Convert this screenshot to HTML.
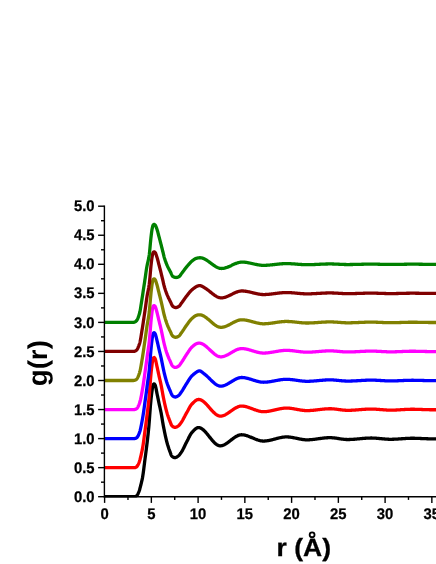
<!DOCTYPE html>
<html><head><meta charset="utf-8"><title>g(r)</title>
<style>
html,body{margin:0;padding:0;background:#fff;}
body{width:436px;height:564px;overflow:hidden;font-family:"Liberation Sans",sans-serif;}
svg{display:block;will-change:transform;}
text{font-family:"Liberation Sans",sans-serif;font-weight:bold;fill:#000;text-rendering:geometricPrecision;}
</style></head><body>
<svg width="436" height="564" viewBox="0 0 436 564">
<rect width="436" height="564" fill="#fff"/>
<clipPath id="pc"><rect x="104.60" y="0" width="340" height="497.40"/></clipPath>
<g fill="none" stroke-width="3.3" stroke-linejoin="round" stroke-linecap="butt" clip-path="url(#pc)">
<path d="M104.60,496.70 L109.27,496.70 L113.95,496.70 L118.62,496.70 L123.30,496.70 L127.97,496.70 L132.65,496.70 L132.88,496.70 L133.12,496.70 L133.35,496.70 L133.58,496.70 L133.82,496.70 L134.05,496.70 L134.29,496.70 L134.52,496.70 L134.75,496.70 L134.99,496.69 L135.22,496.64 L135.45,496.56 L135.69,496.46 L135.92,496.34 L136.16,496.20 L136.39,496.06 L136.62,495.87 L136.86,495.62 L137.09,495.32 L137.32,494.97 L137.56,494.58 L137.79,494.15 L138.03,493.69 L138.26,493.20 L138.49,492.68 L138.73,492.14 L138.96,491.59 L139.19,491.01 L139.43,490.30 L139.66,489.49 L139.90,488.61 L140.13,487.69 L140.36,486.78 L140.60,485.89 L140.83,485.00 L141.06,484.10 L141.30,483.18 L141.53,482.23 L141.77,481.23 L142.00,480.18 L142.23,479.07 L142.47,477.88 L142.70,476.57 L142.93,475.11 L143.17,473.52 L143.40,471.81 L143.64,470.01 L143.87,468.16 L144.10,466.27 L144.34,464.37 L144.57,462.49 L144.80,460.64 L145.04,458.86 L145.27,457.12 L145.51,455.38 L145.74,453.63 L145.97,451.84 L146.21,450.00 L146.44,448.14 L146.67,446.31 L146.91,444.39 L147.14,442.46 L147.38,440.50 L147.61,438.50 L147.84,436.43 L148.08,434.30 L148.31,432.08 L148.54,429.75 L148.78,427.31 L149.01,424.69 L149.25,421.71 L149.48,418.51 L149.71,415.27 L149.95,412.16 L150.18,409.04 L150.41,406.00 L150.65,403.27 L150.88,400.78 L151.12,398.44 L151.35,396.30 L151.58,394.40 L151.82,392.56 L152.05,390.72 L152.28,388.96 L152.52,387.39 L152.75,386.08 L152.99,385.15 L153.22,384.64 L153.45,384.28 L153.69,384.00 L153.92,383.84 L154.15,383.83 L154.39,383.98 L154.62,384.24 L154.86,384.58 L155.09,384.97 L155.32,385.56 L155.56,386.36 L155.79,387.33 L156.02,388.44 L156.26,389.63 L156.49,390.87 L156.73,392.11 L156.96,393.32 L157.19,394.46 L157.43,395.55 L157.66,396.67 L157.89,397.81 L158.13,398.95 L158.36,400.10 L158.60,401.25 L158.83,402.39 L159.06,403.51 L159.30,404.59 L159.53,405.65 L159.76,406.69 L160.00,407.72 L160.23,408.76 L160.47,409.81 L160.70,410.90 L160.93,412.02 L161.17,413.20 L161.40,414.45 L161.63,415.78 L161.87,417.15 L162.10,418.56 L162.34,419.98 L162.57,421.40 L162.80,422.79 L163.04,424.13 L163.27,425.42 L163.50,426.64 L163.74,427.83 L163.97,429.02 L164.21,430.20 L164.44,431.36 L164.67,432.51 L164.91,433.64 L165.14,434.75 L165.37,435.84 L165.61,436.90 L165.84,437.94 L166.08,438.94 L166.31,439.92 L166.54,440.86 L166.78,441.77 L167.01,442.64 L167.24,443.48 L167.48,444.29 L167.71,445.08 L167.95,445.84 L168.18,446.59 L168.41,447.31 L168.65,448.01 L168.88,448.70 L169.11,449.37 L169.35,450.02 L169.58,450.66 L169.82,451.29 L170.05,451.91 L170.28,452.56 L170.52,453.23 L170.75,453.89 L170.98,454.52 L171.22,455.09 L171.45,455.57 L171.69,455.94 L171.92,456.17 L172.15,456.37 L172.39,456.56 L172.62,456.73 L172.85,456.90 L173.09,457.05 L173.32,457.19 L173.56,457.31 L173.79,457.42 L174.02,457.50 L174.26,457.57 L174.49,457.62 L174.72,457.65 L174.96,457.66 L175.19,457.64 L175.43,457.60 L175.66,457.53 L175.89,457.45 L176.13,457.35 L176.36,457.24 L176.59,457.11 L176.83,456.97 L177.06,456.83 L177.30,456.68 L177.53,456.52 L177.76,456.36 L178.00,456.20 L178.23,456.03 L178.46,455.84 L178.70,455.62 L178.93,455.39 L179.17,455.13 L179.40,454.86 L179.63,454.57 L179.87,454.27 L180.10,453.96 L180.33,453.64 L180.57,453.32 L180.80,452.98 L181.04,452.65 L181.27,452.31 L181.50,451.96 L181.74,451.60 L181.97,451.21 L182.20,450.81 L182.44,450.40 L182.67,449.97 L182.91,449.53 L183.14,449.07 L183.37,448.61 L183.61,448.14 L183.84,447.67 L184.07,447.19 L184.31,446.70 L184.54,446.22 L184.78,445.73 L185.01,445.25 L185.24,444.76 L185.48,444.28 L185.71,443.81 L185.94,443.34 L186.18,442.89 L186.41,442.44 L186.65,442.00 L186.88,441.56 L187.11,441.10 L187.35,440.64 L187.58,440.18 L187.81,439.70 L188.05,439.23 L188.28,438.75 L188.52,438.27 L188.75,437.80 L188.98,437.33 L189.22,436.87 L189.45,436.41 L189.68,435.96 L189.92,435.53 L190.15,435.10 L190.39,434.69 L190.62,434.30 L190.85,433.93 L191.09,433.58 L191.32,433.25 L191.55,432.94 L191.79,432.66 L192.02,432.40 L192.26,432.15 L192.49,431.89 L192.72,431.64 L192.96,431.38 L193.19,431.13 L193.42,430.88 L193.66,430.64 L193.89,430.40 L194.13,430.16 L194.36,429.93 L194.59,429.70 L194.83,429.48 L195.06,429.27 L195.29,429.07 L195.53,428.88 L195.76,428.69 L196.00,428.52 L196.23,428.36 L196.46,428.21 L196.70,428.08 L196.93,427.96 L197.16,427.85 L197.40,427.76 L197.63,427.68 L197.87,427.63 L198.10,427.59 L198.33,427.56 L198.57,427.56 L198.80,427.57 L199.03,427.60 L199.27,427.63 L199.50,427.68 L199.74,427.74 L199.97,427.81 L200.20,427.89 L200.44,427.98 L200.67,428.08 L200.90,428.20 L201.14,428.32 L201.37,428.45 L201.61,428.59 L201.84,428.74 L202.07,428.90 L202.31,429.07 L202.54,429.24 L202.77,429.43 L203.01,429.62 L203.24,429.82 L203.48,430.02 L203.71,430.24 L203.94,430.46 L204.18,430.68 L204.41,430.91 L204.64,431.15 L204.88,431.39 L205.11,431.64 L205.35,431.89 L205.58,432.15 L205.81,432.41 L206.05,432.68 L206.28,432.95 L206.51,433.22 L206.75,433.50 L206.98,433.78 L207.22,434.06 L207.45,434.35 L208.01,435.04 L208.57,435.74 L209.13,436.45 L209.69,437.15 L210.25,437.86 L210.82,438.56 L211.38,439.25 L211.94,439.92 L212.50,440.58 L213.06,441.21 L213.62,441.82 L214.18,442.41 L214.74,442.95 L215.30,443.47 L215.87,443.94 L216.43,444.36 L216.99,444.74 L217.55,445.07 L218.11,445.34 L218.67,445.56 L219.23,445.71 L219.79,445.79 L220.35,445.80 L220.91,445.76 L221.48,445.68 L222.04,445.56 L222.60,445.40 L223.16,445.21 L223.72,444.98 L224.28,444.72 L224.84,444.43 L225.40,444.12 L225.96,443.78 L226.52,443.43 L227.09,443.05 L227.65,442.66 L228.21,442.25 L228.77,441.83 L229.33,441.41 L229.89,440.98 L230.45,440.54 L231.01,440.10 L231.57,439.67 L232.13,439.23 L232.70,438.81 L233.26,438.39 L233.82,437.98 L234.38,437.58 L234.94,437.21 L235.50,436.84 L236.06,436.50 L236.62,436.19 L237.18,435.89 L237.74,435.63 L238.31,435.40 L238.87,435.20 L239.43,435.03 L239.99,434.90 L240.55,434.82 L241.11,434.77 L241.67,434.77 L242.23,434.79 L242.79,434.84 L243.35,434.90 L243.92,434.99 L244.48,435.10 L245.04,435.22 L245.60,435.36 L246.16,435.51 L246.72,435.68 L247.28,435.86 L247.84,436.05 L248.40,436.25 L248.96,436.46 L249.53,436.68 L250.09,436.91 L250.65,437.14 L251.21,437.37 L251.77,437.61 L252.33,437.84 L252.89,438.08 L253.45,438.32 L254.01,438.55 L254.57,438.79 L255.14,439.01 L255.70,439.23 L256.26,439.45 L256.82,439.65 L257.38,439.85 L257.94,440.04 L258.50,440.21 L259.06,440.37 L259.62,440.52 L260.18,440.65 L260.75,440.76 L261.31,440.86 L261.87,440.94 L262.43,440.99 L262.99,441.03 L263.55,441.04 L264.11,441.03 L264.67,441.01 L265.23,440.98 L265.79,440.93 L266.36,440.87 L266.92,440.80 L267.48,440.72 L268.04,440.63 L268.60,440.53 L269.16,440.42 L269.72,440.30 L270.28,440.18 L270.84,440.05 L271.40,439.92 L271.97,439.78 L272.53,439.64 L273.09,439.49 L273.65,439.34 L274.21,439.19 L274.77,439.04 L275.33,438.89 L275.89,438.74 L276.45,438.59 L277.01,438.44 L277.58,438.29 L278.14,438.15 L278.70,438.01 L279.26,437.88 L279.82,437.75 L280.38,437.63 L280.94,437.52 L281.50,437.41 L282.06,437.31 L282.62,437.22 L283.19,437.14 L283.75,437.07 L284.31,437.02 L284.87,436.97 L285.43,436.94 L285.99,436.92 L286.55,436.92 L287.11,436.92 L287.67,436.94 L288.23,436.98 L288.80,437.02 L289.36,437.07 L289.92,437.13 L290.48,437.20 L291.04,437.28 L291.60,437.37 L292.16,437.46 L292.72,437.56 L293.28,437.66 L293.84,437.77 L294.41,437.88 L294.97,438.00 L295.53,438.11 L296.09,438.23 L296.65,438.35 L297.21,438.47 L297.77,438.58 L298.33,438.70 L298.89,438.82 L299.45,438.93 L300.02,439.04 L300.58,439.14 L301.14,439.24 L301.70,439.34 L302.26,439.42 L302.82,439.51 L303.38,439.58 L303.94,439.64 L304.50,439.70 L305.06,439.75 L305.63,439.78 L306.19,439.81 L306.75,439.82 L307.31,439.82 L307.87,439.81 L308.43,439.80 L308.99,439.78 L309.55,439.75 L310.11,439.71 L310.67,439.67 L311.24,439.63 L311.80,439.58 L312.36,439.53 L312.92,439.47 L313.48,439.40 L314.04,439.34 L314.60,439.27 L315.16,439.20 L315.72,439.13 L316.28,439.05 L316.85,438.97 L317.41,438.90 L317.97,438.82 L318.53,438.74 L319.09,438.66 L319.65,438.58 L320.21,438.50 L320.77,438.43 L321.33,438.35 L321.89,438.28 L322.46,438.21 L323.02,438.14 L323.58,438.08 L324.14,438.01 L324.70,437.96 L325.26,437.90 L325.82,437.85 L326.38,437.81 L326.94,437.77 L327.50,437.74 L328.07,437.71 L328.63,437.69 L329.19,437.68 L329.75,437.67 L330.31,437.67 L330.87,437.69 L331.43,437.71 L331.99,437.74 L332.55,437.78 L333.11,437.83 L333.68,437.88 L334.24,437.94 L334.80,438.01 L335.36,438.08 L335.92,438.16 L336.48,438.24 L337.04,438.32 L337.60,438.41 L338.16,438.50 L338.72,438.59 L339.29,438.67 L339.85,438.76 L340.41,438.85 L340.97,438.93 L341.53,439.01 L342.09,439.09 L342.65,439.16 L343.21,439.23 L343.77,439.30 L344.33,439.35 L344.90,439.41 L345.46,439.45 L346.02,439.48 L346.58,439.51 L347.14,439.52 L347.70,439.53 L348.26,439.53 L348.82,439.52 L349.38,439.51 L349.94,439.49 L350.51,439.47 L351.07,439.44 L351.63,439.42 L352.19,439.38 L352.75,439.35 L353.31,439.31 L353.87,439.27 L354.43,439.23 L354.99,439.18 L355.55,439.13 L356.12,439.08 L356.68,439.03 L357.24,438.98 L357.80,438.93 L358.36,438.87 L358.92,438.82 L359.48,438.77 L360.04,438.71 L360.60,438.66 L361.16,438.60 L361.73,438.55 L362.29,438.50 L362.85,438.45 L363.41,438.40 L363.97,438.35 L364.53,438.31 L365.09,438.27 L365.65,438.23 L366.21,438.19 L366.77,438.15 L367.34,438.12 L367.90,438.10 L368.46,438.07 L369.02,438.05 L369.58,438.04 L370.14,438.03 L370.70,438.02 L371.26,438.02 L371.82,438.02 L372.38,438.04 L372.95,438.05 L373.51,438.07 L374.07,438.10 L374.63,438.13 L375.19,438.16 L375.75,438.20 L376.31,438.24 L376.87,438.29 L377.43,438.33 L377.99,438.38 L378.56,438.43 L379.12,438.49 L379.68,438.54 L380.24,438.59 L380.80,438.65 L381.36,438.70 L381.92,438.76 L382.48,438.81 L383.04,438.86 L383.60,438.92 L384.17,438.97 L384.73,439.01 L385.29,439.06 L385.85,439.10 L386.41,439.14 L386.97,439.18 L387.53,439.21 L388.09,439.24 L388.65,439.26 L389.21,439.28 L389.78,439.29 L390.34,439.30 L390.90,439.30 L391.46,439.29 L392.02,439.29 L392.58,439.27 L393.14,439.26 L393.70,439.24 L394.26,439.22 L394.82,439.20 L395.39,439.17 L395.95,439.14 L396.51,439.11 L397.07,439.08 L397.63,439.04 L398.19,439.01 L398.75,438.97 L399.31,438.93 L399.87,438.89 L400.43,438.85 L401.00,438.81 L401.56,438.77 L402.12,438.73 L402.68,438.69 L403.24,438.65 L403.80,438.61 L404.36,438.57 L404.92,438.53 L405.48,438.49 L406.04,438.46 L406.61,438.43 L407.17,438.40 L407.73,438.37 L408.29,438.34 L408.85,438.32 L409.41,438.30 L409.97,438.28 L410.53,438.27 L411.09,438.26 L411.65,438.25 L412.22,438.25 L412.78,438.25 L413.34,438.26 L413.90,438.26 L414.46,438.27 L415.02,438.28 L415.58,438.30 L416.14,438.31 L416.70,438.33 L417.26,438.35 L417.83,438.37 L418.39,438.39 L418.95,438.41 L419.51,438.43 L420.07,438.46 L420.63,438.48 L421.19,438.50 L421.75,438.53 L422.31,438.55 L422.87,438.58 L423.44,438.60 L424.00,438.63 L424.56,438.65 L425.12,438.67 L425.68,438.70 L426.24,438.72 L426.80,438.74 L427.36,438.76 L427.92,438.77 L428.48,438.79 L429.05,438.80 L429.61,438.81 L430.17,438.82 L430.73,438.83 L431.29,438.83 L431.85,438.83 L432.41,438.83 L432.97,438.83 L433.53,438.83 L434.09,438.83 L434.66,438.83 L435.22,438.83 L435.78,438.83 L436.34,438.83 L436.90,438.82 L437.46,438.82 L438.02,438.82 L438.58,438.81 L439.14,438.81 L439.70,438.81 L440.27,438.80 L440.83,438.80 L441.39,438.79 L441.95,438.78 L442.51,438.78 L443.07,438.77 L443.63,438.76 L444.19,438.75 L444.75,438.74 L445.31,438.73 L445.88,438.72 L446.44,438.71" stroke="#000000"/>
<path d="M104.60,467.65 L109.27,467.65 L113.95,467.65 L118.62,467.65 L123.30,467.65 L127.97,467.65 L132.65,467.65 L132.88,467.65 L133.12,467.65 L133.35,467.65 L133.58,467.65 L133.82,467.65 L134.05,467.64 L134.29,467.64 L134.52,467.62 L134.75,467.61 L134.99,467.59 L135.22,467.55 L135.45,467.48 L135.69,467.39 L135.92,467.27 L136.16,467.14 L136.39,467.00 L136.62,466.85 L136.86,466.64 L137.09,466.38 L137.32,466.06 L137.56,465.70 L137.79,465.29 L138.03,464.85 L138.26,464.37 L138.49,463.86 L138.73,463.32 L138.96,462.76 L139.19,462.19 L139.43,461.57 L139.66,460.84 L139.90,460.03 L140.13,459.14 L140.36,458.20 L140.60,457.23 L140.83,456.25 L141.06,455.26 L141.30,454.23 L141.53,453.18 L141.77,452.10 L142.00,450.98 L142.23,449.82 L142.47,448.61 L142.70,447.35 L142.93,445.98 L143.17,444.48 L143.40,442.87 L143.64,441.18 L143.87,439.43 L144.10,437.63 L144.34,435.82 L144.57,434.00 L144.80,432.20 L145.04,430.43 L145.27,428.71 L145.51,427.00 L145.74,425.28 L145.97,423.54 L146.21,421.76 L146.44,419.95 L146.67,418.15 L146.91,416.25 L147.14,414.37 L147.38,412.51 L147.61,410.65 L147.84,408.77 L148.08,406.86 L148.31,404.88 L148.54,402.82 L148.78,400.65 L149.01,398.35 L149.25,395.77 L149.48,392.88 L149.71,389.80 L149.95,386.72 L150.18,383.67 L150.41,380.58 L150.65,377.70 L150.88,375.09 L151.12,372.64 L151.35,370.39 L151.58,368.35 L151.82,366.43 L152.05,364.54 L152.28,362.78 L152.52,361.19 L152.75,359.86 L152.99,358.87 L153.22,358.33 L153.45,357.97 L153.69,357.69 L153.92,357.53 L154.15,357.51 L154.39,357.65 L154.62,357.90 L154.86,358.23 L155.09,358.61 L155.32,359.17 L155.56,359.93 L155.79,360.84 L156.02,361.88 L156.26,362.99 L156.49,364.13 L156.73,365.28 L156.96,366.40 L157.19,367.46 L157.43,368.49 L157.66,369.55 L157.89,370.63 L158.13,371.72 L158.36,372.83 L158.60,373.92 L158.83,375.01 L159.06,376.08 L159.30,377.12 L159.53,378.14 L159.76,379.14 L160.00,380.14 L160.23,381.15 L160.47,382.17 L160.70,383.22 L160.93,384.30 L161.17,385.42 L161.40,386.61 L161.63,387.85 L161.87,389.13 L162.10,390.44 L162.34,391.76 L162.57,393.07 L162.80,394.37 L163.04,395.64 L163.27,396.86 L163.50,398.03 L163.74,399.18 L163.97,400.31 L164.21,401.42 L164.44,402.51 L164.67,403.58 L164.91,404.63 L165.14,405.65 L165.37,406.65 L165.61,407.63 L165.84,408.58 L166.08,409.51 L166.31,410.41 L166.54,411.27 L166.78,412.11 L167.01,412.91 L167.24,413.69 L167.48,414.44 L167.71,415.17 L167.95,415.87 L168.18,416.56 L168.41,417.23 L168.65,417.88 L168.88,418.52 L169.11,419.14 L169.35,419.75 L169.58,420.35 L169.82,420.94 L170.05,421.52 L170.28,422.12 L170.52,422.74 L170.75,423.36 L170.98,423.97 L171.22,424.52 L171.45,425.01 L171.69,425.41 L171.92,425.69 L172.15,425.94 L172.39,426.17 L172.62,426.38 L172.85,426.56 L173.09,426.70 L173.32,426.84 L173.56,426.96 L173.79,427.07 L174.02,427.16 L174.26,427.23 L174.49,427.29 L174.72,427.33 L174.96,427.34 L175.19,427.34 L175.43,427.32 L175.66,427.27 L175.89,427.21 L176.13,427.13 L176.36,427.04 L176.59,426.94 L176.83,426.82 L177.06,426.70 L177.30,426.56 L177.53,426.43 L177.76,426.29 L178.00,426.14 L178.23,425.99 L178.46,425.82 L178.70,425.63 L178.93,425.42 L179.17,425.19 L179.40,424.94 L179.63,424.67 L179.87,424.37 L180.10,424.06 L180.33,423.74 L180.57,423.40 L180.80,423.07 L181.04,422.73 L181.27,422.40 L181.50,422.06 L181.74,421.70 L181.97,421.34 L182.20,420.95 L182.44,420.56 L182.67,420.15 L182.91,419.74 L183.14,419.32 L183.37,418.89 L183.61,418.45 L183.84,418.01 L184.07,417.56 L184.31,417.11 L184.54,416.66 L184.78,416.22 L185.01,415.77 L185.24,415.32 L185.48,414.88 L185.71,414.44 L185.94,414.01 L186.18,413.59 L186.41,413.18 L186.65,412.77 L186.88,412.36 L187.11,411.95 L187.35,411.53 L187.58,411.10 L187.81,410.66 L188.05,410.23 L188.28,409.79 L188.52,409.36 L188.75,408.93 L188.98,408.50 L189.22,408.08 L189.45,407.66 L189.68,407.25 L189.92,406.85 L190.15,406.47 L190.39,406.09 L190.62,405.73 L190.85,405.39 L191.09,405.06 L191.32,404.76 L191.55,404.47 L191.79,404.21 L192.02,403.96 L192.26,403.72 L192.49,403.49 L192.72,403.25 L192.96,403.01 L193.19,402.77 L193.42,402.54 L193.66,402.30 L193.89,402.08 L194.13,401.86 L194.36,401.64 L194.59,401.43 L194.83,401.23 L195.06,401.04 L195.29,400.85 L195.53,400.68 L195.76,400.51 L196.00,400.36 L196.23,400.22 L196.46,400.09 L196.70,399.97 L196.93,399.86 L197.16,399.76 L197.40,399.68 L197.63,399.61 L197.87,399.55 L198.10,399.51 L198.33,399.49 L198.57,399.48 L198.80,399.48 L199.03,399.49 L199.27,399.51 L199.50,399.55 L199.74,399.59 L199.97,399.65 L200.20,399.71 L200.44,399.79 L200.67,399.87 L200.90,399.97 L201.14,400.07 L201.37,400.18 L201.61,400.30 L201.84,400.43 L202.07,400.57 L202.31,400.72 L202.54,400.87 L202.77,401.03 L203.01,401.20 L203.24,401.37 L203.48,401.56 L203.71,401.75 L203.94,401.94 L204.18,402.14 L204.41,402.35 L204.64,402.56 L204.88,402.78 L205.11,403.00 L205.35,403.23 L205.58,403.46 L205.81,403.69 L206.05,403.93 L206.28,404.18 L206.51,404.42 L206.75,404.67 L206.98,404.93 L207.22,405.18 L207.45,405.44 L208.01,406.07 L208.57,406.71 L209.13,407.35 L209.69,408.00 L210.25,408.64 L210.82,409.28 L211.38,409.91 L211.94,410.53 L212.50,411.14 L213.06,411.73 L213.62,412.29 L214.18,412.83 L214.74,413.34 L215.30,413.82 L215.87,414.26 L216.43,414.67 L216.99,415.03 L217.55,415.34 L218.11,415.61 L218.67,415.82 L219.23,415.97 L219.79,416.07 L220.35,416.10 L220.91,416.08 L221.48,416.02 L222.04,415.93 L222.60,415.79 L223.16,415.62 L223.72,415.42 L224.28,415.20 L224.84,414.94 L225.40,414.66 L225.96,414.36 L226.52,414.04 L227.09,413.70 L227.65,413.34 L228.21,412.98 L228.77,412.60 L229.33,412.21 L229.89,411.82 L230.45,411.42 L231.01,411.02 L231.57,410.62 L232.13,410.22 L232.70,409.83 L233.26,409.44 L233.82,409.07 L234.38,408.70 L234.94,408.35 L235.50,408.02 L236.06,407.71 L236.62,407.41 L237.18,407.14 L237.74,406.89 L238.31,406.67 L238.87,406.48 L239.43,406.33 L239.99,406.20 L240.55,406.12 L241.11,406.07 L241.67,406.06 L242.23,406.08 L242.79,406.12 L243.35,406.17 L243.92,406.25 L244.48,406.34 L245.04,406.45 L245.60,406.58 L246.16,406.71 L246.72,406.86 L247.28,407.02 L247.84,407.20 L248.40,407.38 L248.96,407.56 L249.53,407.76 L250.09,407.96 L250.65,408.17 L251.21,408.38 L251.77,408.59 L252.33,408.81 L252.89,409.02 L253.45,409.24 L254.01,409.45 L254.57,409.66 L255.14,409.86 L255.70,410.06 L256.26,410.26 L256.82,410.44 L257.38,410.62 L257.94,410.79 L258.50,410.95 L259.06,411.09 L259.62,411.23 L260.18,411.34 L260.75,411.45 L261.31,411.53 L261.87,411.60 L262.43,411.66 L262.99,411.69 L263.55,411.70 L264.11,411.69 L264.67,411.67 L265.23,411.64 L265.79,411.60 L266.36,411.55 L266.92,411.49 L267.48,411.41 L268.04,411.33 L268.60,411.25 L269.16,411.15 L269.72,411.05 L270.28,410.94 L270.84,410.83 L271.40,410.71 L271.97,410.59 L272.53,410.46 L273.09,410.34 L273.65,410.21 L274.21,410.07 L274.77,409.94 L275.33,409.81 L275.89,409.67 L276.45,409.54 L277.01,409.41 L277.58,409.28 L278.14,409.16 L278.70,409.04 L279.26,408.92 L279.82,408.81 L280.38,408.70 L280.94,408.60 L281.50,408.51 L282.06,408.42 L282.62,408.34 L283.19,408.27 L283.75,408.21 L284.31,408.16 L284.87,408.12 L285.43,408.09 L285.99,408.08 L286.55,408.07 L287.11,408.08 L287.67,408.10 L288.23,408.13 L288.80,408.16 L289.36,408.21 L289.92,408.26 L290.48,408.32 L291.04,408.39 L291.60,408.47 L292.16,408.55 L292.72,408.63 L293.28,408.72 L293.84,408.82 L294.41,408.91 L294.97,409.01 L295.53,409.11 L296.09,409.22 L296.65,409.32 L297.21,409.42 L297.77,409.52 L298.33,409.63 L298.89,409.73 L299.45,409.82 L300.02,409.92 L300.58,410.01 L301.14,410.10 L301.70,410.18 L302.26,410.25 L302.82,410.33 L303.38,410.39 L303.94,410.45 L304.50,410.49 L305.06,410.53 L305.63,410.57 L306.19,410.59 L306.75,410.60 L307.31,410.60 L307.87,410.59 L308.43,410.58 L308.99,410.56 L309.55,410.54 L310.11,410.51 L310.67,410.47 L311.24,410.43 L311.80,410.39 L312.36,410.34 L312.92,410.29 L313.48,410.24 L314.04,410.18 L314.60,410.12 L315.16,410.06 L315.72,410.00 L316.28,409.93 L316.85,409.87 L317.41,409.80 L317.97,409.73 L318.53,409.67 L319.09,409.60 L319.65,409.53 L320.21,409.46 L320.77,409.40 L321.33,409.33 L321.89,409.27 L322.46,409.21 L323.02,409.15 L323.58,409.09 L324.14,409.04 L324.70,408.99 L325.26,408.94 L325.82,408.90 L326.38,408.86 L326.94,408.83 L327.50,408.80 L328.07,408.78 L328.63,408.76 L329.19,408.75 L329.75,408.74 L330.31,408.74 L330.87,408.76 L331.43,408.77 L331.99,408.80 L332.55,408.84 L333.11,408.88 L333.68,408.92 L334.24,408.98 L334.80,409.03 L335.36,409.10 L335.92,409.16 L336.48,409.23 L337.04,409.30 L337.60,409.38 L338.16,409.45 L338.72,409.53 L339.29,409.60 L339.85,409.68 L340.41,409.75 L340.97,409.82 L341.53,409.89 L342.09,409.96 L342.65,410.02 L343.21,410.08 L343.77,410.13 L344.33,410.18 L344.90,410.23 L345.46,410.26 L346.02,410.29 L346.58,410.31 L347.14,410.33 L347.70,410.33 L348.26,410.33 L348.82,410.32 L349.38,410.31 L349.94,410.30 L350.51,410.28 L351.07,410.26 L351.63,410.24 L352.19,410.21 L352.75,410.18 L353.31,410.15 L353.87,410.11 L354.43,410.08 L354.99,410.04 L355.55,410.00 L356.12,409.96 L356.68,409.91 L357.24,409.87 L357.80,409.82 L358.36,409.78 L358.92,409.73 L359.48,409.69 L360.04,409.64 L360.60,409.59 L361.16,409.55 L361.73,409.50 L362.29,409.46 L362.85,409.42 L363.41,409.38 L363.97,409.34 L364.53,409.30 L365.09,409.26 L365.65,409.23 L366.21,409.20 L366.77,409.17 L367.34,409.14 L367.90,409.12 L368.46,409.10 L369.02,409.08 L369.58,409.07 L370.14,409.06 L370.70,409.06 L371.26,409.05 L371.82,409.06 L372.38,409.07 L372.95,409.08 L373.51,409.10 L374.07,409.12 L374.63,409.15 L375.19,409.18 L375.75,409.21 L376.31,409.24 L376.87,409.28 L377.43,409.32 L377.99,409.36 L378.56,409.41 L379.12,409.45 L379.68,409.50 L380.24,409.54 L380.80,409.59 L381.36,409.63 L381.92,409.68 L382.48,409.73 L383.04,409.77 L383.60,409.81 L384.17,409.86 L384.73,409.90 L385.29,409.94 L385.85,409.97 L386.41,410.00 L386.97,410.03 L387.53,410.06 L388.09,410.08 L388.65,410.10 L389.21,410.12 L389.78,410.13 L390.34,410.14 L390.90,410.14 L391.46,410.13 L392.02,410.13 L392.58,410.12 L393.14,410.11 L393.70,410.09 L394.26,410.07 L394.82,410.05 L395.39,410.03 L395.95,410.01 L396.51,409.98 L397.07,409.95 L397.63,409.92 L398.19,409.89 L398.75,409.86 L399.31,409.83 L399.87,409.79 L400.43,409.76 L401.00,409.72 L401.56,409.69 L402.12,409.65 L402.68,409.62 L403.24,409.58 L403.80,409.55 L404.36,409.52 L404.92,409.49 L405.48,409.46 L406.04,409.43 L406.61,409.40 L407.17,409.37 L407.73,409.35 L408.29,409.33 L408.85,409.31 L409.41,409.29 L409.97,409.28 L410.53,409.27 L411.09,409.26 L411.65,409.25 L412.22,409.25 L412.78,409.25 L413.34,409.25 L413.90,409.26 L414.46,409.27 L415.02,409.28 L415.58,409.29 L416.14,409.30 L416.70,409.32 L417.26,409.33 L417.83,409.35 L418.39,409.37 L418.95,409.39 L419.51,409.40 L420.07,409.42 L420.63,409.45 L421.19,409.47 L421.75,409.49 L422.31,409.51 L422.87,409.53 L423.44,409.55 L424.00,409.57 L424.56,409.59 L425.12,409.61 L425.68,409.63 L426.24,409.65 L426.80,409.66 L427.36,409.68 L427.92,409.69 L428.48,409.71 L429.05,409.72 L429.61,409.73 L430.17,409.74 L430.73,409.74 L431.29,409.74 L431.85,409.75 L432.41,409.75 L432.97,409.75 L433.53,409.75 L434.09,409.74 L434.66,409.74 L435.22,409.74 L435.78,409.74 L436.34,409.74 L436.90,409.74 L437.46,409.74 L438.02,409.73 L438.58,409.73 L439.14,409.73 L439.70,409.72 L440.27,409.72 L440.83,409.72 L441.39,409.71 L441.95,409.71 L442.51,409.70 L443.07,409.69 L443.63,409.69 L444.19,409.68 L444.75,409.67 L445.31,409.66 L445.88,409.65 L446.44,409.64" stroke="#ff0000"/>
<path d="M104.60,438.60 L109.27,438.60 L113.95,438.60 L118.62,438.60 L123.30,438.60 L127.97,438.60 L132.65,438.60 L132.88,438.60 L133.12,438.60 L133.35,438.60 L133.58,438.60 L133.82,438.60 L134.05,438.60 L134.29,438.58 L134.52,438.56 L134.75,438.53 L134.99,438.48 L135.22,438.44 L135.45,438.37 L135.69,438.27 L135.92,438.16 L136.16,438.04 L136.39,437.90 L136.62,437.75 L136.86,437.58 L137.09,437.36 L137.32,437.08 L137.56,436.74 L137.79,436.36 L138.03,435.94 L138.26,435.47 L138.49,434.97 L138.73,434.44 L138.96,433.87 L139.19,433.28 L139.43,432.66 L139.66,432.00 L139.90,431.27 L140.13,430.47 L140.36,429.57 L140.60,428.57 L140.83,427.51 L141.06,426.40 L141.30,425.24 L141.53,424.04 L141.77,422.80 L142.00,421.53 L142.23,420.24 L142.47,418.93 L142.70,417.61 L142.93,416.26 L143.17,414.83 L143.40,413.30 L143.64,411.70 L143.87,410.05 L144.10,408.37 L144.34,406.67 L144.57,404.97 L144.80,403.26 L145.04,401.57 L145.27,399.90 L145.51,398.25 L145.74,396.58 L145.97,394.89 L146.21,393.17 L146.44,391.42 L146.67,389.66 L146.91,387.77 L147.14,385.93 L147.38,384.16 L147.61,382.46 L147.84,380.81 L148.08,379.19 L148.31,377.55 L148.54,375.85 L148.78,374.08 L149.01,372.19 L149.25,370.12 L149.48,367.76 L149.71,365.09 L149.95,362.22 L150.18,359.29 L150.41,356.27 L150.65,353.31 L150.88,350.57 L151.12,348.00 L151.35,345.66 L151.58,343.52 L151.82,341.50 L152.05,339.58 L152.28,337.88 L152.52,336.36 L152.75,335.05 L152.99,334.06 L153.22,333.49 L153.45,333.17 L153.69,332.92 L153.92,332.76 L154.15,332.74 L154.39,332.85 L154.62,333.06 L154.86,333.36 L155.09,333.69 L155.32,334.18 L155.56,334.83 L155.79,335.62 L156.02,336.51 L156.26,337.47 L156.49,338.45 L156.73,339.44 L156.96,340.39 L157.19,341.33 L157.43,342.27 L157.66,343.25 L157.89,344.25 L158.13,345.28 L158.36,346.31 L158.60,347.34 L158.83,348.35 L159.06,349.35 L159.30,350.32 L159.53,351.29 L159.76,352.24 L160.00,353.20 L160.23,354.16 L160.47,355.13 L160.70,356.12 L160.93,357.14 L161.17,358.18 L161.40,359.27 L161.63,360.40 L161.87,361.55 L162.10,362.72 L162.34,363.89 L162.57,365.06 L162.80,366.22 L163.04,367.38 L163.27,368.51 L163.50,369.61 L163.74,370.69 L163.97,371.74 L164.21,372.77 L164.44,373.75 L164.67,374.70 L164.91,375.63 L165.14,376.53 L165.37,377.41 L165.61,378.27 L165.84,379.10 L166.08,379.91 L166.31,380.69 L166.54,381.45 L166.78,382.18 L167.01,382.89 L167.24,383.58 L167.48,384.24 L167.71,384.88 L167.95,385.50 L168.18,386.11 L168.41,386.70 L168.65,387.28 L168.88,387.85 L169.11,388.40 L169.35,388.95 L169.58,389.49 L169.82,390.02 L170.05,390.55 L170.28,391.10 L170.52,391.67 L170.75,392.25 L170.98,392.84 L171.22,393.40 L171.45,393.93 L171.69,394.40 L171.92,394.79 L172.15,395.15 L172.39,395.47 L172.62,395.75 L172.85,395.97 L173.09,396.15 L173.32,396.31 L173.56,396.46 L173.79,396.59 L174.02,396.70 L174.26,396.80 L174.49,396.89 L174.72,396.95 L174.96,396.99 L175.19,397.01 L175.43,397.01 L175.66,396.99 L175.89,396.94 L176.13,396.88 L176.36,396.80 L176.59,396.71 L176.83,396.60 L177.06,396.47 L177.30,396.34 L177.53,396.20 L177.76,396.05 L178.00,395.90 L178.23,395.74 L178.46,395.57 L178.70,395.38 L178.93,395.18 L179.17,394.97 L179.40,394.73 L179.63,394.45 L179.87,394.14 L180.10,393.81 L180.33,393.47 L180.57,393.12 L180.80,392.77 L181.04,392.43 L181.27,392.11 L181.50,391.78 L181.74,391.45 L181.97,391.10 L182.20,390.75 L182.44,390.39 L182.67,390.02 L182.91,389.64 L183.14,389.26 L183.37,388.87 L183.61,388.48 L183.84,388.09 L184.07,387.69 L184.31,387.29 L184.54,386.90 L184.78,386.50 L185.01,386.11 L185.24,385.72 L185.48,385.33 L185.71,384.94 L185.94,384.56 L186.18,384.19 L186.41,383.83 L186.65,383.47 L186.88,383.11 L187.11,382.75 L187.35,382.38 L187.58,382.00 L187.81,381.63 L188.05,381.25 L188.28,380.88 L188.52,380.50 L188.75,380.13 L188.98,379.76 L189.22,379.40 L189.45,379.04 L189.68,378.68 L189.92,378.34 L190.15,378.01 L190.39,377.68 L190.62,377.37 L190.85,377.07 L191.09,376.78 L191.32,376.51 L191.55,376.25 L191.79,376.02 L192.02,375.79 L192.26,375.57 L192.49,375.35 L192.72,375.14 L192.96,374.92 L193.19,374.70 L193.42,374.49 L193.66,374.28 L193.89,374.08 L194.13,373.88 L194.36,373.68 L194.59,373.50 L194.83,373.32 L195.06,373.15 L195.29,372.98 L195.53,372.81 L195.76,372.64 L196.00,372.48 L196.23,372.32 L196.46,372.16 L196.70,372.00 L196.93,371.84 L197.16,371.69 L197.40,371.55 L197.63,371.42 L197.87,371.30 L198.10,371.19 L198.33,371.10 L198.57,371.02 L198.80,370.97 L199.03,370.93 L199.27,370.91 L199.50,370.91 L199.74,370.93 L199.97,370.97 L200.20,371.03 L200.44,371.11 L200.67,371.21 L200.90,371.33 L201.14,371.46 L201.37,371.60 L201.61,371.76 L201.84,371.93 L202.07,372.11 L202.31,372.30 L202.54,372.49 L202.77,372.68 L203.01,372.87 L203.24,373.07 L203.48,373.26 L203.71,373.45 L203.94,373.64 L204.18,373.82 L204.41,373.99 L204.64,374.17 L204.88,374.35 L205.11,374.53 L205.35,374.72 L205.58,374.92 L205.81,375.11 L206.05,375.32 L206.28,375.52 L206.51,375.73 L206.75,375.94 L206.98,376.16 L207.22,376.38 L207.45,376.60 L208.01,377.13 L208.57,377.68 L209.13,378.23 L209.69,378.79 L210.25,379.35 L210.82,379.91 L211.38,380.46 L211.94,381.00 L212.50,381.53 L213.06,382.05 L213.62,382.55 L214.18,383.03 L214.74,383.49 L215.30,383.92 L215.87,384.32 L216.43,384.69 L216.99,385.03 L217.55,385.32 L218.11,385.58 L218.67,385.79 L219.23,385.95 L219.79,386.06 L220.35,386.12 L220.91,386.13 L221.48,386.10 L222.04,386.04 L222.60,385.94 L223.16,385.81 L223.72,385.65 L224.28,385.47 L224.84,385.26 L225.40,385.03 L225.96,384.78 L226.52,384.51 L227.09,384.22 L227.65,383.92 L228.21,383.60 L228.77,383.28 L229.33,382.95 L229.89,382.61 L230.45,382.26 L231.01,381.92 L231.57,381.57 L232.13,381.23 L232.70,380.88 L233.26,380.55 L233.82,380.22 L234.38,379.90 L234.94,379.59 L235.50,379.29 L236.06,379.01 L236.62,378.75 L237.18,378.51 L237.74,378.29 L238.31,378.09 L238.87,377.92 L239.43,377.77 L239.99,377.65 L240.55,377.57 L241.11,377.52 L241.67,377.50 L242.23,377.51 L242.79,377.54 L243.35,377.58 L243.92,377.64 L244.48,377.72 L245.04,377.80 L245.60,377.91 L246.16,378.02 L246.72,378.14 L247.28,378.28 L247.84,378.42 L248.40,378.57 L248.96,378.73 L249.53,378.90 L250.09,379.07 L250.65,379.24 L251.21,379.42 L251.77,379.60 L252.33,379.78 L252.89,379.96 L253.45,380.14 L254.01,380.32 L254.57,380.50 L255.14,380.67 L255.70,380.84 L256.26,381.01 L256.82,381.16 L257.38,381.32 L257.94,381.46 L258.50,381.59 L259.06,381.72 L259.62,381.83 L260.18,381.93 L260.75,382.02 L261.31,382.09 L261.87,382.15 L262.43,382.19 L262.99,382.22 L263.55,382.23 L264.11,382.22 L264.67,382.21 L265.23,382.18 L265.79,382.15 L266.36,382.11 L266.92,382.06 L267.48,382.00 L268.04,381.94 L268.60,381.87 L269.16,381.79 L269.72,381.71 L270.28,381.62 L270.84,381.53 L271.40,381.44 L271.97,381.34 L272.53,381.24 L273.09,381.14 L273.65,381.03 L274.21,380.93 L274.77,380.82 L275.33,380.71 L275.89,380.61 L276.45,380.50 L277.01,380.39 L277.58,380.29 L278.14,380.19 L278.70,380.09 L279.26,380.00 L279.82,379.91 L280.38,379.82 L280.94,379.74 L281.50,379.67 L282.06,379.60 L282.62,379.54 L283.19,379.48 L283.75,379.43 L284.31,379.39 L284.87,379.36 L285.43,379.34 L285.99,379.32 L286.55,379.32 L287.11,379.32 L287.67,379.34 L288.23,379.36 L288.80,379.39 L289.36,379.43 L289.92,379.47 L290.48,379.52 L291.04,379.57 L291.60,379.63 L292.16,379.69 L292.72,379.76 L293.28,379.83 L293.84,379.90 L294.41,379.98 L294.97,380.06 L295.53,380.14 L296.09,380.22 L296.65,380.30 L297.21,380.38 L297.77,380.46 L298.33,380.54 L298.89,380.62 L299.45,380.70 L300.02,380.77 L300.58,380.84 L301.14,380.91 L301.70,380.97 L302.26,381.03 L302.82,381.09 L303.38,381.14 L303.94,381.18 L304.50,381.22 L305.06,381.25 L305.63,381.28 L306.19,381.30 L306.75,381.30 L307.31,381.30 L307.87,381.30 L308.43,381.29 L308.99,381.28 L309.55,381.26 L310.11,381.23 L310.67,381.21 L311.24,381.18 L311.80,381.14 L312.36,381.11 L312.92,381.07 L313.48,381.03 L314.04,380.98 L314.60,380.94 L315.16,380.89 L315.72,380.84 L316.28,380.79 L316.85,380.74 L317.41,380.69 L317.97,380.63 L318.53,380.58 L319.09,380.53 L319.65,380.48 L320.21,380.42 L320.77,380.37 L321.33,380.32 L321.89,380.27 L322.46,380.23 L323.02,380.18 L323.58,380.14 L324.14,380.10 L324.70,380.06 L325.26,380.02 L325.82,379.99 L326.38,379.96 L326.94,379.93 L327.50,379.91 L328.07,379.89 L328.63,379.88 L329.19,379.87 L329.75,379.87 L330.31,379.87 L330.87,379.88 L331.43,379.89 L331.99,379.91 L332.55,379.94 L333.11,379.97 L333.68,380.00 L334.24,380.04 L334.80,380.09 L335.36,380.14 L335.92,380.19 L336.48,380.24 L337.04,380.29 L337.60,380.35 L338.16,380.40 L338.72,380.46 L339.29,380.52 L339.85,380.57 L340.41,380.63 L340.97,380.69 L341.53,380.74 L342.09,380.79 L342.65,380.84 L343.21,380.88 L343.77,380.92 L344.33,380.96 L344.90,380.99 L345.46,381.02 L346.02,381.04 L346.58,381.06 L347.14,381.07 L347.70,381.07 L348.26,381.07 L348.82,381.07 L349.38,381.06 L349.94,381.05 L350.51,381.04 L351.07,381.02 L351.63,381.00 L352.19,380.98 L352.75,380.96 L353.31,380.94 L353.87,380.91 L354.43,380.88 L354.99,380.85 L355.55,380.82 L356.12,380.79 L356.68,380.76 L357.24,380.73 L357.80,380.70 L358.36,380.66 L358.92,380.63 L359.48,380.59 L360.04,380.56 L360.60,380.53 L361.16,380.49 L361.73,380.46 L362.29,380.43 L362.85,380.40 L363.41,380.37 L363.97,380.34 L364.53,380.31 L365.09,380.28 L365.65,380.26 L366.21,380.23 L366.77,380.21 L367.34,380.19 L367.90,380.17 L368.46,380.16 L369.02,380.15 L369.58,380.14 L370.14,380.13 L370.70,380.13 L371.26,380.13 L371.82,380.13 L372.38,380.14 L372.95,380.15 L373.51,380.16 L374.07,380.18 L374.63,380.20 L375.19,380.22 L375.75,380.24 L376.31,380.27 L376.87,380.30 L377.43,380.32 L377.99,380.36 L378.56,380.39 L379.12,380.42 L379.68,380.45 L380.24,380.49 L380.80,380.52 L381.36,380.56 L381.92,380.59 L382.48,380.63 L383.04,380.66 L383.60,380.69 L384.17,380.72 L384.73,380.75 L385.29,380.78 L385.85,380.81 L386.41,380.83 L386.97,380.85 L387.53,380.87 L388.09,380.89 L388.65,380.91 L389.21,380.92 L389.78,380.93 L390.34,380.93 L390.90,380.93 L391.46,380.93 L392.02,380.92 L392.58,380.92 L393.14,380.91 L393.70,380.90 L394.26,380.88 L394.82,380.87 L395.39,380.85 L395.95,380.83 L396.51,380.81 L397.07,380.79 L397.63,380.77 L398.19,380.75 L398.75,380.72 L399.31,380.70 L399.87,380.67 L400.43,380.65 L401.00,380.62 L401.56,380.60 L402.12,380.57 L402.68,380.54 L403.24,380.52 L403.80,380.49 L404.36,380.47 L404.92,380.45 L405.48,380.42 L406.04,380.40 L406.61,380.38 L407.17,380.36 L407.73,380.34 L408.29,380.33 L408.85,380.31 L409.41,380.30 L409.97,380.29 L410.53,380.28 L411.09,380.28 L411.65,380.27 L412.22,380.27 L412.78,380.27 L413.34,380.27 L413.90,380.28 L414.46,380.28 L415.02,380.29 L415.58,380.30 L416.14,380.31 L416.70,380.32 L417.26,380.33 L417.83,380.34 L418.39,380.36 L418.95,380.37 L419.51,380.39 L420.07,380.40 L420.63,380.42 L421.19,380.43 L421.75,380.45 L422.31,380.46 L422.87,380.48 L423.44,380.50 L424.00,380.51 L424.56,380.53 L425.12,380.54 L425.68,380.56 L426.24,380.57 L426.80,380.58 L427.36,380.59 L427.92,380.60 L428.48,380.61 L429.05,380.62 L429.61,380.63 L430.17,380.64 L430.73,380.64 L431.29,380.64 L431.85,380.64 L432.41,380.64 L432.97,380.64 L433.53,380.64 L434.09,380.64 L434.66,380.64 L435.22,380.64 L435.78,380.64 L436.34,380.64 L436.90,380.64 L437.46,380.64 L438.02,380.64 L438.58,380.63 L439.14,380.63 L439.70,380.63 L440.27,380.63 L440.83,380.62 L441.39,380.62 L441.95,380.62 L442.51,380.61 L443.07,380.61 L443.63,380.60 L444.19,380.60 L444.75,380.59 L445.31,380.58 L445.88,380.58 L446.44,380.57" stroke="#0000ff"/>
<path d="M104.60,409.55 L109.27,409.55 L113.95,409.55 L118.62,409.55 L123.30,409.55 L127.97,409.55 L132.65,409.55 L132.88,409.55 L133.12,409.55 L133.35,409.55 L133.58,409.55 L133.82,409.55 L134.05,409.55 L134.29,409.53 L134.52,409.50 L134.75,409.46 L134.99,409.41 L135.22,409.36 L135.45,409.28 L135.69,409.18 L135.92,409.07 L136.16,408.94 L136.39,408.80 L136.62,408.65 L136.86,408.48 L137.09,408.25 L137.32,407.97 L137.56,407.63 L137.79,407.25 L138.03,406.82 L138.26,406.35 L138.49,405.85 L138.73,405.31 L138.96,404.73 L139.19,404.13 L139.43,403.51 L139.66,402.84 L139.90,402.11 L140.13,401.32 L140.36,400.42 L140.60,399.41 L140.83,398.32 L141.06,397.17 L141.30,395.96 L141.53,394.71 L141.77,393.42 L142.00,392.10 L142.23,390.76 L142.47,389.40 L142.70,388.05 L142.93,386.68 L143.17,385.23 L143.40,383.70 L143.64,382.11 L143.87,380.48 L144.10,378.82 L144.34,377.16 L144.57,375.49 L144.80,373.82 L145.04,372.16 L145.27,370.51 L145.51,368.87 L145.74,367.23 L145.97,365.54 L146.21,363.83 L146.44,362.09 L146.67,360.35 L146.91,358.48 L147.14,356.67 L147.38,354.94 L147.61,353.31 L147.84,351.75 L148.08,350.21 L148.31,348.68 L148.54,347.10 L148.78,345.44 L149.01,343.67 L149.25,341.73 L149.48,339.51 L149.71,336.97 L149.95,334.19 L150.18,331.32 L150.41,328.34 L150.65,325.41 L150.88,322.67 L151.12,320.12 L151.35,317.81 L151.58,315.72 L151.82,313.74 L152.05,311.90 L152.28,310.31 L152.52,308.90 L152.75,307.68 L152.99,306.77 L153.22,306.27 L153.45,306.00 L153.69,305.79 L153.92,305.66 L154.15,305.63 L154.39,305.71 L154.62,305.89 L154.86,306.13 L155.09,306.40 L155.32,306.79 L155.56,307.34 L155.79,308.02 L156.02,308.79 L156.26,309.64 L156.49,310.52 L156.73,311.40 L156.96,312.28 L157.19,313.17 L157.43,314.07 L157.66,315.02 L157.89,316.01 L158.13,317.01 L158.36,318.02 L158.60,319.02 L158.83,320.02 L159.06,320.99 L159.30,321.95 L159.53,322.90 L159.76,323.84 L160.00,324.78 L160.23,325.73 L160.47,326.69 L160.70,327.66 L160.93,328.66 L161.17,329.68 L161.40,330.74 L161.63,331.83 L161.87,332.94 L162.10,334.07 L162.34,335.20 L162.57,336.33 L162.80,337.45 L163.04,338.57 L163.27,339.67 L163.50,340.75 L163.74,341.81 L163.97,342.84 L164.21,343.84 L164.44,344.79 L164.67,345.70 L164.91,346.59 L165.14,347.46 L165.37,348.30 L165.61,349.12 L165.84,349.92 L166.08,350.69 L166.31,351.44 L166.54,352.17 L166.78,352.87 L167.01,353.55 L167.24,354.21 L167.48,354.84 L167.71,355.46 L167.95,356.06 L168.18,356.64 L168.41,357.21 L168.65,357.77 L168.88,358.31 L169.11,358.85 L169.35,359.38 L169.58,359.89 L169.82,360.41 L170.05,360.92 L170.28,361.44 L170.52,361.98 L170.75,362.54 L170.98,363.10 L171.22,363.66 L171.45,364.19 L171.69,364.66 L171.92,365.07 L172.15,365.45 L172.39,365.78 L172.62,366.07 L172.85,366.30 L173.09,366.48 L173.32,366.64 L173.56,366.79 L173.79,366.93 L174.02,367.05 L174.26,367.16 L174.49,367.25 L174.72,367.33 L174.96,367.38 L175.19,367.42 L175.43,367.43 L175.66,367.43 L175.89,367.40 L176.13,367.36 L176.36,367.29 L176.59,367.21 L176.83,367.12 L177.06,367.01 L177.30,366.89 L177.53,366.76 L177.76,366.63 L178.00,366.48 L178.23,366.33 L178.46,366.16 L178.70,365.98 L178.93,365.79 L179.17,365.59 L179.40,365.36 L179.63,365.08 L179.87,364.77 L180.10,364.43 L180.33,364.08 L180.57,363.72 L180.80,363.36 L181.04,363.01 L181.27,362.69 L181.50,362.37 L181.74,362.04 L181.97,361.70 L182.20,361.35 L182.44,361.00 L182.67,360.64 L182.91,360.27 L183.14,359.90 L183.37,359.53 L183.61,359.15 L183.84,358.77 L184.07,358.39 L184.31,358.01 L184.54,357.63 L184.78,357.25 L185.01,356.87 L185.24,356.50 L185.48,356.13 L185.71,355.76 L185.94,355.40 L186.18,355.04 L186.41,354.69 L186.65,354.34 L186.88,354.00 L187.11,353.65 L187.35,353.30 L187.58,352.94 L187.81,352.58 L188.05,352.23 L188.28,351.87 L188.52,351.51 L188.75,351.16 L188.98,350.80 L189.22,350.46 L189.45,350.11 L189.68,349.78 L189.92,349.45 L190.15,349.13 L190.39,348.82 L190.62,348.52 L190.85,348.24 L191.09,347.96 L191.32,347.70 L191.55,347.45 L191.79,347.22 L192.02,347.01 L192.26,346.79 L192.49,346.58 L192.72,346.37 L192.96,346.16 L193.19,345.95 L193.42,345.74 L193.66,345.54 L193.89,345.34 L194.13,345.15 L194.36,344.96 L194.59,344.78 L194.83,344.61 L195.06,344.45 L195.29,344.30 L195.53,344.15 L195.76,344.02 L196.00,343.90 L196.23,343.80 L196.46,343.70 L196.70,343.61 L196.93,343.53 L197.16,343.45 L197.40,343.38 L197.63,343.32 L197.87,343.27 L198.10,343.22 L198.33,343.19 L198.57,343.16 L198.80,343.15 L199.03,343.14 L199.27,343.14 L199.50,343.15 L199.74,343.17 L199.97,343.19 L200.20,343.23 L200.44,343.27 L200.67,343.32 L200.90,343.39 L201.14,343.45 L201.37,343.53 L201.61,343.61 L201.84,343.71 L202.07,343.80 L202.31,343.91 L202.54,344.02 L202.77,344.14 L203.01,344.27 L203.24,344.40 L203.48,344.54 L203.71,344.68 L203.94,344.83 L204.18,344.99 L204.41,345.15 L204.64,345.31 L204.88,345.48 L205.11,345.66 L205.35,345.84 L205.58,346.02 L205.81,346.21 L206.05,346.40 L206.28,346.59 L206.51,346.79 L206.75,346.99 L206.98,347.19 L207.22,347.40 L207.45,347.61 L208.01,348.12 L208.57,348.64 L209.13,349.16 L209.69,349.70 L210.25,350.23 L210.82,350.76 L211.38,351.29 L211.94,351.81 L212.50,352.32 L213.06,352.82 L213.62,353.30 L214.18,353.76 L214.74,354.20 L215.30,354.62 L215.87,355.01 L216.43,355.37 L216.99,355.69 L217.55,355.98 L218.11,356.23 L218.67,356.44 L219.23,356.61 L219.79,356.72 L220.35,356.79 L220.91,356.81 L221.48,356.79 L222.04,356.74 L222.60,356.65 L223.16,356.53 L223.72,356.38 L224.28,356.21 L224.84,356.02 L225.40,355.80 L225.96,355.57 L226.52,355.31 L227.09,355.04 L227.65,354.75 L228.21,354.46 L228.77,354.15 L229.33,353.83 L229.89,353.51 L230.45,353.18 L231.01,352.85 L231.57,352.52 L232.13,352.19 L232.70,351.86 L233.26,351.54 L233.82,351.23 L234.38,350.92 L234.94,350.62 L235.50,350.34 L236.06,350.07 L236.62,349.82 L237.18,349.58 L237.74,349.37 L238.31,349.18 L238.87,349.01 L239.43,348.87 L239.99,348.75 L240.55,348.67 L241.11,348.62 L241.67,348.60 L242.23,348.60 L242.79,348.63 L243.35,348.67 L243.92,348.72 L244.48,348.79 L245.04,348.88 L245.60,348.97 L246.16,349.08 L246.72,349.19 L247.28,349.32 L247.84,349.45 L248.40,349.60 L248.96,349.75 L249.53,349.90 L250.09,350.06 L250.65,350.23 L251.21,350.39 L251.77,350.56 L252.33,350.74 L252.89,350.91 L253.45,351.08 L254.01,351.25 L254.57,351.42 L255.14,351.58 L255.70,351.74 L256.26,351.90 L256.82,352.05 L257.38,352.19 L257.94,352.32 L258.50,352.45 L259.06,352.57 L259.62,352.67 L260.18,352.77 L260.75,352.85 L261.31,352.92 L261.87,352.98 L262.43,353.02 L262.99,353.04 L263.55,353.05 L264.11,353.05 L264.67,353.03 L265.23,353.01 L265.79,352.98 L266.36,352.94 L266.92,352.90 L267.48,352.84 L268.04,352.78 L268.60,352.72 L269.16,352.65 L269.72,352.57 L270.28,352.49 L270.84,352.41 L271.40,352.32 L271.97,352.23 L272.53,352.14 L273.09,352.04 L273.65,351.94 L274.21,351.85 L274.77,351.75 L275.33,351.65 L275.89,351.55 L276.45,351.45 L277.01,351.35 L277.58,351.26 L278.14,351.17 L278.70,351.08 L279.26,350.99 L279.82,350.91 L280.38,350.83 L280.94,350.75 L281.50,350.68 L282.06,350.62 L282.62,350.56 L283.19,350.51 L283.75,350.46 L284.31,350.42 L284.87,350.39 L285.43,350.37 L285.99,350.36 L286.55,350.36 L287.11,350.36 L287.67,350.38 L288.23,350.40 L288.80,350.42 L289.36,350.46 L289.92,350.50 L290.48,350.54 L291.04,350.59 L291.60,350.64 L292.16,350.70 L292.72,350.76 L293.28,350.83 L293.84,350.89 L294.41,350.96 L294.97,351.04 L295.53,351.11 L296.09,351.18 L296.65,351.26 L297.21,351.33 L297.77,351.41 L298.33,351.48 L298.89,351.55 L299.45,351.62 L300.02,351.69 L300.58,351.76 L301.14,351.82 L301.70,351.88 L302.26,351.93 L302.82,351.98 L303.38,352.03 L303.94,352.07 L304.50,352.11 L305.06,352.14 L305.63,352.16 L306.19,352.17 L306.75,352.18 L307.31,352.18 L307.87,352.18 L308.43,352.17 L308.99,352.15 L309.55,352.14 L310.11,352.12 L310.67,352.09 L311.24,352.07 L311.80,352.04 L312.36,352.00 L312.92,351.97 L313.48,351.93 L314.04,351.89 L314.60,351.85 L315.16,351.80 L315.72,351.76 L316.28,351.71 L316.85,351.67 L317.41,351.62 L317.97,351.57 L318.53,351.52 L319.09,351.47 L319.65,351.43 L320.21,351.38 L320.77,351.33 L321.33,351.29 L321.89,351.24 L322.46,351.20 L323.02,351.16 L323.58,351.12 L324.14,351.08 L324.70,351.04 L325.26,351.01 L325.82,350.98 L326.38,350.95 L326.94,350.93 L327.50,350.91 L328.07,350.89 L328.63,350.88 L329.19,350.87 L329.75,350.87 L330.31,350.87 L330.87,350.88 L331.43,350.89 L331.99,350.91 L332.55,350.93 L333.11,350.96 L333.68,350.99 L334.24,351.03 L334.80,351.07 L335.36,351.11 L335.92,351.16 L336.48,351.20 L337.04,351.25 L337.60,351.30 L338.16,351.35 L338.72,351.41 L339.29,351.46 L339.85,351.51 L340.41,351.56 L340.97,351.61 L341.53,351.66 L342.09,351.70 L342.65,351.75 L343.21,351.79 L343.77,351.82 L344.33,351.86 L344.90,351.89 L345.46,351.91 L346.02,351.93 L346.58,351.95 L347.14,351.96 L347.70,351.96 L348.26,351.96 L348.82,351.96 L349.38,351.95 L349.94,351.94 L350.51,351.93 L351.07,351.91 L351.63,351.90 L352.19,351.88 L352.75,351.86 L353.31,351.84 L353.87,351.82 L354.43,351.79 L354.99,351.77 L355.55,351.74 L356.12,351.71 L356.68,351.68 L357.24,351.65 L357.80,351.62 L358.36,351.59 L358.92,351.56 L359.48,351.53 L360.04,351.50 L360.60,351.47 L361.16,351.44 L361.73,351.41 L362.29,351.38 L362.85,351.35 L363.41,351.33 L363.97,351.30 L364.53,351.28 L365.09,351.25 L365.65,351.23 L366.21,351.21 L366.77,351.19 L367.34,351.17 L367.90,351.16 L368.46,351.14 L369.02,351.13 L369.58,351.12 L370.14,351.12 L370.70,351.11 L371.26,351.11 L371.82,351.12 L372.38,351.12 L372.95,351.13 L373.51,351.14 L374.07,351.16 L374.63,351.18 L375.19,351.19 L375.75,351.22 L376.31,351.24 L376.87,351.26 L377.43,351.29 L377.99,351.32 L378.56,351.35 L379.12,351.38 L379.68,351.41 L380.24,351.44 L380.80,351.47 L381.36,351.50 L381.92,351.53 L382.48,351.56 L383.04,351.59 L383.60,351.62 L384.17,351.65 L384.73,351.67 L385.29,351.70 L385.85,351.72 L386.41,351.74 L386.97,351.77 L387.53,351.78 L388.09,351.80 L388.65,351.81 L389.21,351.82 L389.78,351.83 L390.34,351.83 L390.90,351.83 L391.46,351.83 L392.02,351.83 L392.58,351.82 L393.14,351.81 L393.70,351.80 L394.26,351.79 L394.82,351.78 L395.39,351.76 L395.95,351.75 L396.51,351.73 L397.07,351.71 L397.63,351.69 L398.19,351.67 L398.75,351.65 L399.31,351.62 L399.87,351.60 L400.43,351.58 L401.00,351.56 L401.56,351.53 L402.12,351.51 L402.68,351.49 L403.24,351.46 L403.80,351.44 L404.36,351.42 L404.92,351.40 L405.48,351.38 L406.04,351.36 L406.61,351.34 L407.17,351.32 L407.73,351.31 L408.29,351.29 L408.85,351.28 L409.41,351.27 L409.97,351.26 L410.53,351.25 L411.09,351.25 L411.65,351.24 L412.22,351.24 L412.78,351.24 L413.34,351.24 L413.90,351.25 L414.46,351.25 L415.02,351.26 L415.58,351.27 L416.14,351.28 L416.70,351.29 L417.26,351.30 L417.83,351.31 L418.39,351.32 L418.95,351.33 L419.51,351.35 L420.07,351.36 L420.63,351.37 L421.19,351.39 L421.75,351.40 L422.31,351.42 L422.87,351.43 L423.44,351.45 L424.00,351.46 L424.56,351.47 L425.12,351.49 L425.68,351.50 L426.24,351.51 L426.80,351.52 L427.36,351.53 L427.92,351.54 L428.48,351.55 L429.05,351.56 L429.61,351.57 L430.17,351.57 L430.73,351.57 L431.29,351.58 L431.85,351.58 L432.41,351.58 L432.97,351.58 L433.53,351.58 L434.09,351.58 L434.66,351.58 L435.22,351.58 L435.78,351.58 L436.34,351.57 L436.90,351.57 L437.46,351.57 L438.02,351.57 L438.58,351.57 L439.14,351.57 L439.70,351.56 L440.27,351.56 L440.83,351.56 L441.39,351.56 L441.95,351.55 L442.51,351.55 L443.07,351.54 L443.63,351.54 L444.19,351.54 L444.75,351.53 L445.31,351.52 L445.88,351.52 L446.44,351.51" stroke="#ff00ff"/>
<path d="M104.60,380.50 L109.27,380.50 L113.95,380.50 L118.62,380.50 L123.30,380.50 L127.97,380.50 L132.65,380.50 L132.88,380.50 L133.12,380.50 L133.35,380.50 L133.58,380.50 L133.82,380.48 L134.05,380.45 L134.29,380.41 L134.52,380.36 L134.75,380.29 L134.99,380.21 L135.22,380.11 L135.45,379.99 L135.69,379.86 L135.92,379.72 L136.16,379.57 L136.39,379.41 L136.62,379.21 L136.86,378.94 L137.09,378.62 L137.32,378.25 L137.56,377.84 L137.79,377.38 L138.03,376.88 L138.26,376.34 L138.49,375.77 L138.73,375.17 L138.96,374.54 L139.19,373.88 L139.43,373.17 L139.66,372.42 L139.90,371.57 L140.13,370.58 L140.36,369.49 L140.60,368.30 L140.83,367.04 L141.06,365.72 L141.30,364.35 L141.53,362.94 L141.77,361.52 L142.00,360.10 L142.23,358.68 L142.47,357.29 L142.70,355.84 L142.93,354.33 L143.17,352.77 L143.40,351.18 L143.64,349.57 L143.87,347.95 L144.10,346.34 L144.34,344.73 L144.57,343.12 L144.80,341.51 L145.04,339.91 L145.27,338.30 L145.51,336.65 L145.74,334.96 L145.97,333.25 L146.21,331.53 L146.44,329.84 L146.67,328.21 L146.91,326.59 L147.14,325.07 L147.38,323.66 L147.61,322.32 L147.84,321.03 L148.08,319.74 L148.31,318.42 L148.54,317.04 L148.78,315.56 L149.01,313.93 L149.25,312.08 L149.48,309.93 L149.71,307.50 L149.95,304.90 L150.18,302.18 L150.41,299.43 L150.65,296.77 L150.88,294.25 L151.12,291.94 L151.35,289.89 L151.58,287.94 L151.82,286.09 L152.05,284.44 L152.28,283.08 L152.52,281.83 L152.75,280.75 L152.99,279.94 L153.22,279.48 L153.45,279.24 L153.69,279.05 L153.92,278.92 L154.15,278.89 L154.39,278.96 L154.62,279.11 L154.86,279.32 L155.09,279.56 L155.32,279.91 L155.56,280.39 L155.79,280.99 L156.02,281.68 L156.26,282.44 L156.49,283.22 L156.73,284.02 L156.96,284.81 L157.19,285.63 L157.43,286.49 L157.66,287.40 L157.89,288.34 L158.13,289.30 L158.36,290.27 L158.60,291.25 L158.83,292.20 L159.06,293.14 L159.30,294.06 L159.53,294.98 L159.76,295.90 L160.00,296.82 L160.23,297.75 L160.47,298.68 L160.70,299.62 L160.93,300.58 L161.17,301.57 L161.40,302.57 L161.63,303.60 L161.87,304.65 L162.10,305.70 L162.34,306.76 L162.57,307.81 L162.80,308.86 L163.04,309.93 L163.27,310.98 L163.50,312.02 L163.74,313.05 L163.97,314.04 L164.21,314.99 L164.44,315.89 L164.67,316.74 L164.91,317.57 L165.14,318.37 L165.37,319.16 L165.61,319.91 L165.84,320.65 L166.08,321.36 L166.31,322.05 L166.54,322.72 L166.78,323.37 L167.01,324.00 L167.24,324.61 L167.48,325.20 L167.71,325.77 L167.95,326.33 L168.18,326.87 L168.41,327.40 L168.65,327.92 L168.88,328.43 L169.11,328.93 L169.35,329.42 L169.58,329.91 L169.82,330.39 L170.05,330.88 L170.28,331.37 L170.52,331.87 L170.75,332.39 L170.98,332.93 L171.22,333.47 L171.45,333.99 L171.69,334.48 L171.92,334.92 L172.15,335.32 L172.39,335.67 L172.62,335.97 L172.85,336.20 L173.09,336.36 L173.32,336.51 L173.56,336.64 L173.79,336.77 L174.02,336.89 L174.26,336.99 L174.49,337.08 L174.72,337.15 L174.96,337.21 L175.19,337.25 L175.43,337.28 L175.66,337.28 L175.89,337.27 L176.13,337.25 L176.36,337.20 L176.59,337.15 L176.83,337.07 L177.06,336.99 L177.30,336.90 L177.53,336.79 L177.76,336.68 L178.00,336.56 L178.23,336.44 L178.46,336.30 L178.70,336.15 L178.93,335.99 L179.17,335.82 L179.40,335.62 L179.63,335.36 L179.87,335.06 L180.10,334.73 L180.33,334.38 L180.57,334.02 L180.80,333.67 L181.04,333.32 L181.27,333.00 L181.50,332.68 L181.74,332.36 L181.97,332.04 L182.20,331.70 L182.44,331.37 L182.67,331.03 L182.91,330.68 L183.14,330.33 L183.37,329.98 L183.61,329.63 L183.84,329.27 L184.07,328.92 L184.31,328.56 L184.54,328.21 L184.78,327.86 L185.01,327.51 L185.24,327.16 L185.48,326.82 L185.71,326.47 L185.94,326.14 L186.18,325.81 L186.41,325.48 L186.65,325.16 L186.88,324.85 L187.11,324.52 L187.35,324.20 L187.58,323.87 L187.81,323.54 L188.05,323.21 L188.28,322.89 L188.52,322.56 L188.75,322.24 L188.98,321.91 L189.22,321.60 L189.45,321.29 L189.68,320.98 L189.92,320.68 L190.15,320.39 L190.39,320.10 L190.62,319.83 L190.85,319.56 L191.09,319.31 L191.32,319.06 L191.55,318.83 L191.79,318.62 L192.02,318.41 L192.26,318.21 L192.49,318.01 L192.72,317.80 L192.96,317.60 L193.19,317.40 L193.42,317.21 L193.66,317.02 L193.89,316.83 L194.13,316.65 L194.36,316.47 L194.59,316.31 L194.83,316.15 L195.06,316.00 L195.29,315.86 L195.53,315.73 L195.76,315.61 L196.00,315.51 L196.23,315.42 L196.46,315.33 L196.70,315.25 L196.93,315.18 L197.16,315.11 L197.40,315.05 L197.63,314.99 L197.87,314.94 L198.10,314.89 L198.33,314.85 L198.57,314.83 L198.80,314.80 L199.03,314.79 L199.27,314.78 L199.50,314.78 L199.74,314.78 L199.97,314.80 L200.20,314.82 L200.44,314.85 L200.67,314.89 L200.90,314.94 L201.14,314.99 L201.37,315.06 L201.61,315.13 L201.84,315.20 L202.07,315.28 L202.31,315.37 L202.54,315.47 L202.77,315.57 L203.01,315.68 L203.24,315.80 L203.48,315.92 L203.71,316.05 L203.94,316.18 L204.18,316.31 L204.41,316.46 L204.64,316.60 L204.88,316.75 L205.11,316.91 L205.35,317.07 L205.58,317.23 L205.81,317.40 L206.05,317.57 L206.28,317.75 L206.51,317.92 L206.75,318.10 L206.98,318.29 L207.22,318.47 L207.45,318.66 L208.01,319.13 L208.57,319.60 L209.13,320.08 L209.69,320.57 L210.25,321.05 L210.82,321.54 L211.38,322.03 L211.94,322.51 L212.50,322.98 L213.06,323.44 L213.62,323.89 L214.18,324.32 L214.74,324.74 L215.30,325.13 L215.87,325.50 L216.43,325.84 L216.99,326.15 L217.55,326.43 L218.11,326.68 L218.67,326.88 L219.23,327.05 L219.79,327.18 L220.35,327.26 L220.91,327.30 L221.48,327.29 L222.04,327.25 L222.60,327.18 L223.16,327.09 L223.72,326.96 L224.28,326.81 L224.84,326.64 L225.40,326.45 L225.96,326.24 L226.52,326.01 L227.09,325.77 L227.65,325.51 L228.21,325.24 L228.77,324.96 L229.33,324.67 L229.89,324.38 L230.45,324.08 L231.01,323.78 L231.57,323.47 L232.13,323.17 L232.70,322.87 L233.26,322.57 L233.82,322.28 L234.38,322.00 L234.94,321.72 L235.50,321.46 L236.06,321.21 L236.62,320.97 L237.18,320.75 L237.74,320.55 L238.31,320.37 L238.87,320.21 L239.43,320.07 L239.99,319.96 L240.55,319.88 L241.11,319.82 L241.67,319.80 L242.23,319.80 L242.79,319.82 L243.35,319.85 L243.92,319.90 L244.48,319.96 L245.04,320.03 L245.60,320.12 L246.16,320.21 L246.72,320.32 L247.28,320.43 L247.84,320.55 L248.40,320.68 L248.96,320.81 L249.53,320.95 L250.09,321.09 L250.65,321.24 L251.21,321.39 L251.77,321.54 L252.33,321.70 L252.89,321.85 L253.45,322.00 L254.01,322.16 L254.57,322.31 L255.14,322.46 L255.70,322.60 L256.26,322.74 L256.82,322.88 L257.38,323.01 L257.94,323.13 L258.50,323.24 L259.06,323.35 L259.62,323.44 L260.18,323.53 L260.75,323.61 L261.31,323.67 L261.87,323.72 L262.43,323.76 L262.99,323.78 L263.55,323.79 L264.11,323.78 L264.67,323.77 L265.23,323.75 L265.79,323.72 L266.36,323.69 L266.92,323.65 L267.48,323.61 L268.04,323.55 L268.60,323.50 L269.16,323.44 L269.72,323.37 L270.28,323.30 L270.84,323.23 L271.40,323.15 L271.97,323.08 L272.53,323.00 L273.09,322.91 L273.65,322.83 L274.21,322.75 L274.77,322.66 L275.33,322.57 L275.89,322.49 L276.45,322.40 L277.01,322.32 L277.58,322.24 L278.14,322.16 L278.70,322.08 L279.26,322.01 L279.82,321.93 L280.38,321.87 L280.94,321.80 L281.50,321.74 L282.06,321.68 L282.62,321.63 L283.19,321.59 L283.75,321.55 L284.31,321.52 L284.87,321.49 L285.43,321.47 L285.99,321.46 L286.55,321.46 L287.11,321.47 L287.67,321.48 L288.23,321.49 L288.80,321.52 L289.36,321.54 L289.92,321.58 L290.48,321.61 L291.04,321.66 L291.60,321.70 L292.16,321.75 L292.72,321.80 L293.28,321.86 L293.84,321.92 L294.41,321.97 L294.97,322.04 L295.53,322.10 L296.09,322.16 L296.65,322.22 L297.21,322.29 L297.77,322.35 L298.33,322.41 L298.89,322.47 L299.45,322.53 L300.02,322.59 L300.58,322.65 L301.14,322.70 L301.70,322.75 L302.26,322.80 L302.82,322.84 L303.38,322.88 L303.94,322.91 L304.50,322.94 L305.06,322.97 L305.63,322.99 L306.19,323.00 L306.75,323.01 L307.31,323.01 L307.87,323.00 L308.43,322.99 L308.99,322.98 L309.55,322.97 L310.11,322.95 L310.67,322.93 L311.24,322.91 L311.80,322.88 L312.36,322.86 L312.92,322.83 L313.48,322.79 L314.04,322.76 L314.60,322.73 L315.16,322.69 L315.72,322.65 L316.28,322.61 L316.85,322.57 L317.41,322.53 L317.97,322.49 L318.53,322.45 L319.09,322.41 L319.65,322.37 L320.21,322.33 L320.77,322.30 L321.33,322.26 L321.89,322.22 L322.46,322.18 L323.02,322.15 L323.58,322.12 L324.14,322.08 L324.70,322.05 L325.26,322.03 L325.82,322.00 L326.38,321.98 L326.94,321.96 L327.50,321.94 L328.07,321.93 L328.63,321.92 L329.19,321.91 L329.75,321.91 L330.31,321.91 L330.87,321.92 L331.43,321.93 L331.99,321.94 L332.55,321.96 L333.11,321.98 L333.68,322.01 L334.24,322.04 L334.80,322.07 L335.36,322.11 L335.92,322.15 L336.48,322.18 L337.04,322.22 L337.60,322.26 L338.16,322.31 L338.72,322.35 L339.29,322.39 L339.85,322.43 L340.41,322.47 L340.97,322.52 L341.53,322.55 L342.09,322.59 L342.65,322.63 L343.21,322.66 L343.77,322.69 L344.33,322.72 L344.90,322.74 L345.46,322.76 L346.02,322.78 L346.58,322.79 L347.14,322.80 L347.70,322.80 L348.26,322.80 L348.82,322.80 L349.38,322.79 L349.94,322.79 L350.51,322.78 L351.07,322.77 L351.63,322.75 L352.19,322.74 L352.75,322.72 L353.31,322.70 L353.87,322.69 L354.43,322.67 L354.99,322.65 L355.55,322.63 L356.12,322.60 L356.68,322.58 L357.24,322.56 L357.80,322.53 L358.36,322.51 L358.92,322.48 L359.48,322.46 L360.04,322.44 L360.60,322.41 L361.16,322.39 L361.73,322.36 L362.29,322.34 L362.85,322.32 L363.41,322.30 L363.97,322.28 L364.53,322.26 L365.09,322.24 L365.65,322.22 L366.21,322.20 L366.77,322.19 L367.34,322.17 L367.90,322.16 L368.46,322.15 L369.02,322.14 L369.58,322.13 L370.14,322.13 L370.70,322.13 L371.26,322.13 L371.82,322.13 L372.38,322.13 L372.95,322.14 L373.51,322.15 L374.07,322.16 L374.63,322.18 L375.19,322.19 L375.75,322.21 L376.31,322.23 L376.87,322.25 L377.43,322.27 L377.99,322.29 L378.56,322.31 L379.12,322.34 L379.68,322.36 L380.24,322.39 L380.80,322.41 L381.36,322.43 L381.92,322.46 L382.48,322.48 L383.04,322.51 L383.60,322.53 L384.17,322.55 L384.73,322.57 L385.29,322.59 L385.85,322.61 L386.41,322.63 L386.97,322.65 L387.53,322.66 L388.09,322.67 L388.65,322.68 L389.21,322.69 L389.78,322.70 L390.34,322.70 L390.90,322.70 L391.46,322.70 L392.02,322.70 L392.58,322.69 L393.14,322.69 L393.70,322.68 L394.26,322.67 L394.82,322.66 L395.39,322.64 L395.95,322.63 L396.51,322.62 L397.07,322.60 L397.63,322.59 L398.19,322.57 L398.75,322.55 L399.31,322.54 L399.87,322.52 L400.43,322.50 L401.00,322.48 L401.56,322.46 L402.12,322.44 L402.68,322.42 L403.24,322.41 L403.80,322.39 L404.36,322.37 L404.92,322.35 L405.48,322.34 L406.04,322.32 L406.61,322.31 L407.17,322.29 L407.73,322.28 L408.29,322.27 L408.85,322.26 L409.41,322.25 L409.97,322.24 L410.53,322.24 L411.09,322.23 L411.65,322.23 L412.22,322.23 L412.78,322.23 L413.34,322.23 L413.90,322.23 L414.46,322.24 L415.02,322.24 L415.58,322.25 L416.14,322.26 L416.70,322.26 L417.26,322.27 L417.83,322.28 L418.39,322.29 L418.95,322.30 L419.51,322.31 L420.07,322.32 L420.63,322.33 L421.19,322.35 L421.75,322.36 L422.31,322.37 L422.87,322.38 L423.44,322.39 L424.00,322.40 L424.56,322.42 L425.12,322.43 L425.68,322.44 L426.24,322.45 L426.80,322.46 L427.36,322.46 L427.92,322.47 L428.48,322.48 L429.05,322.49 L429.61,322.49 L430.17,322.50 L430.73,322.50 L431.29,322.50 L431.85,322.50 L432.41,322.50 L432.97,322.50 L433.53,322.50 L434.09,322.50 L434.66,322.50 L435.22,322.50 L435.78,322.50 L436.34,322.50 L436.90,322.50 L437.46,322.50 L438.02,322.50 L438.58,322.49 L439.14,322.49 L439.70,322.49 L440.27,322.49 L440.83,322.49 L441.39,322.48 L441.95,322.48 L442.51,322.48 L443.07,322.48 L443.63,322.47 L444.19,322.47 L444.75,322.46 L445.31,322.46 L445.88,322.45 L446.44,322.45" stroke="#808000"/>
<path d="M104.60,351.45 L109.27,351.45 L113.95,351.45 L118.62,351.45 L123.30,351.45 L127.97,351.45 L132.65,351.45 L132.88,351.45 L133.12,351.45 L133.35,351.45 L133.58,351.45 L133.82,351.43 L134.05,351.40 L134.29,351.35 L134.52,351.28 L134.75,351.20 L134.99,351.11 L135.22,351.00 L135.45,350.87 L135.69,350.74 L135.92,350.60 L136.16,350.45 L136.39,350.28 L136.62,350.07 L136.86,349.81 L137.09,349.48 L137.32,349.11 L137.56,348.69 L137.79,348.23 L138.03,347.72 L138.26,347.17 L138.49,346.59 L138.73,345.98 L138.96,345.33 L139.19,344.66 L139.43,343.95 L139.66,343.21 L139.90,342.37 L140.13,341.37 L140.36,340.24 L140.60,339.01 L140.83,337.68 L141.06,336.28 L141.30,334.83 L141.53,333.34 L141.77,331.85 L142.00,330.35 L142.23,328.89 L142.47,327.45 L142.70,325.98 L142.93,324.47 L143.17,322.91 L143.40,321.34 L143.64,319.76 L143.87,318.19 L144.10,316.63 L144.34,315.06 L144.57,313.50 L144.80,311.94 L145.04,310.37 L145.27,308.79 L145.51,307.15 L145.74,305.47 L145.97,303.77 L146.21,302.07 L146.44,300.41 L146.67,298.82 L146.91,297.25 L147.14,295.80 L147.38,294.49 L147.61,293.28 L147.84,292.12 L148.08,290.98 L148.31,289.83 L148.54,288.62 L148.78,287.31 L149.01,285.86 L149.25,284.21 L149.48,282.24 L149.71,279.96 L149.95,277.45 L150.18,274.80 L150.41,272.10 L150.65,269.45 L150.88,266.93 L151.12,264.63 L151.35,262.59 L151.58,260.63 L151.82,258.78 L152.05,257.17 L152.28,255.87 L152.52,254.68 L152.75,253.64 L152.99,252.85 L153.22,252.41 L153.45,252.18 L153.69,252.01 L153.92,251.89 L154.15,251.85 L154.39,251.91 L154.62,252.04 L154.86,252.23 L155.09,252.44 L155.32,252.74 L155.56,253.17 L155.79,253.71 L156.02,254.32 L156.26,255.00 L156.49,255.70 L156.73,256.41 L156.96,257.13 L157.19,257.90 L157.43,258.72 L157.66,259.59 L157.89,260.49 L158.13,261.42 L158.36,262.36 L158.60,263.30 L158.83,264.23 L159.06,265.13 L159.30,266.03 L159.53,266.92 L159.76,267.82 L160.00,268.72 L160.23,269.62 L160.47,270.53 L160.70,271.46 L160.93,272.39 L161.17,273.33 L161.40,274.30 L161.63,275.27 L161.87,276.26 L162.10,277.25 L162.34,278.24 L162.57,279.23 L162.80,280.22 L163.04,281.23 L163.27,282.25 L163.50,283.26 L163.74,284.25 L163.97,285.21 L164.21,286.12 L164.44,286.97 L164.67,287.77 L164.91,288.54 L165.14,289.29 L165.37,290.02 L165.61,290.72 L165.84,291.40 L166.08,292.06 L166.31,292.70 L166.54,293.32 L166.78,293.93 L167.01,294.51 L167.24,295.08 L167.48,295.63 L167.71,296.16 L167.95,296.68 L168.18,297.19 L168.41,297.69 L168.65,298.17 L168.88,298.65 L169.11,299.12 L169.35,299.59 L169.58,300.05 L169.82,300.50 L170.05,300.96 L170.28,301.42 L170.52,301.89 L170.75,302.39 L170.98,302.92 L171.22,303.45 L171.45,303.99 L171.69,304.50 L171.92,304.98 L172.15,305.42 L172.39,305.80 L172.62,306.13 L172.85,306.37 L173.09,306.53 L173.32,306.68 L173.56,306.83 L173.79,306.96 L174.02,307.08 L174.26,307.19 L174.49,307.29 L174.72,307.38 L174.96,307.44 L175.19,307.50 L175.43,307.53 L175.66,307.55 L175.89,307.56 L176.13,307.54 L176.36,307.51 L176.59,307.47 L176.83,307.40 L177.06,307.33 L177.30,307.25 L177.53,307.15 L177.76,307.04 L178.00,306.93 L178.23,306.80 L178.46,306.67 L178.70,306.53 L178.93,306.39 L179.17,306.23 L179.40,306.03 L179.63,305.78 L179.87,305.48 L180.10,305.14 L180.33,304.79 L180.57,304.42 L180.80,304.06 L181.04,303.71 L181.27,303.39 L181.50,303.08 L181.74,302.77 L181.97,302.45 L182.20,302.13 L182.44,301.81 L182.67,301.49 L182.91,301.16 L183.14,300.83 L183.37,300.50 L183.61,300.16 L183.84,299.83 L184.07,299.50 L184.31,299.17 L184.54,298.84 L184.78,298.51 L185.01,298.18 L185.24,297.86 L185.48,297.54 L185.71,297.22 L185.94,296.91 L186.18,296.60 L186.41,296.30 L186.65,296.00 L186.88,295.70 L187.11,295.40 L187.35,295.10 L187.58,294.80 L187.81,294.50 L188.05,294.20 L188.28,293.90 L188.52,293.60 L188.75,293.30 L188.98,293.00 L189.22,292.71 L189.45,292.43 L189.68,292.15 L189.92,291.87 L190.15,291.60 L190.39,291.34 L190.62,291.09 L190.85,290.84 L191.09,290.60 L191.32,290.38 L191.55,290.16 L191.79,289.95 L192.02,289.76 L192.26,289.56 L192.49,289.37 L192.72,289.18 L192.96,288.98 L193.19,288.80 L193.42,288.61 L193.66,288.43 L193.89,288.25 L194.13,288.08 L194.36,287.90 L194.59,287.73 L194.83,287.57 L195.06,287.40 L195.29,287.24 L195.53,287.09 L195.76,286.95 L196.00,286.81 L196.23,286.69 L196.46,286.57 L196.70,286.46 L196.93,286.35 L197.16,286.24 L197.40,286.14 L197.63,286.04 L197.87,285.95 L198.10,285.87 L198.33,285.80 L198.57,285.74 L198.80,285.69 L199.03,285.66 L199.27,285.63 L199.50,285.62 L199.74,285.62 L199.97,285.63 L200.20,285.66 L200.44,285.70 L200.67,285.75 L200.90,285.82 L201.14,285.89 L201.37,285.98 L201.61,286.08 L201.84,286.19 L202.07,286.30 L202.31,286.42 L202.54,286.55 L202.77,286.68 L203.01,286.82 L203.24,286.96 L203.48,287.11 L203.71,287.25 L203.94,287.40 L204.18,287.54 L204.41,287.69 L204.64,287.84 L204.88,287.98 L205.11,288.12 L205.35,288.26 L205.58,288.41 L205.81,288.56 L206.05,288.72 L206.28,288.87 L206.51,289.03 L206.75,289.20 L206.98,289.36 L207.22,289.53 L207.45,289.71 L208.01,290.13 L208.57,290.56 L209.13,291.00 L209.69,291.45 L210.25,291.90 L210.82,292.35 L211.38,292.80 L211.94,293.24 L212.50,293.68 L213.06,294.11 L213.62,294.53 L214.18,294.94 L214.74,295.33 L215.30,295.70 L215.87,296.05 L216.43,296.37 L216.99,296.67 L217.55,296.94 L218.11,297.19 L218.67,297.39 L219.23,297.56 L219.79,297.70 L220.35,297.79 L220.91,297.84 L221.48,297.85 L222.04,297.83 L222.60,297.77 L223.16,297.69 L223.72,297.59 L224.28,297.46 L224.84,297.31 L225.40,297.14 L225.96,296.95 L226.52,296.74 L227.09,296.52 L227.65,296.29 L228.21,296.05 L228.77,295.79 L229.33,295.53 L229.89,295.26 L230.45,294.98 L231.01,294.70 L231.57,294.42 L232.13,294.14 L232.70,293.86 L233.26,293.59 L233.82,293.32 L234.38,293.05 L234.94,292.80 L235.50,292.55 L236.06,292.32 L236.62,292.10 L237.18,291.89 L237.74,291.70 L238.31,291.53 L238.87,291.38 L239.43,291.25 L239.99,291.14 L240.55,291.05 L241.11,291.00 L241.67,290.97 L242.23,290.97 L242.79,290.98 L243.35,291.01 L243.92,291.05 L244.48,291.10 L245.04,291.17 L245.60,291.24 L246.16,291.32 L246.72,291.41 L247.28,291.52 L247.84,291.62 L248.40,291.74 L248.96,291.86 L249.53,291.98 L250.09,292.11 L250.65,292.24 L251.21,292.38 L251.77,292.52 L252.33,292.66 L252.89,292.79 L253.45,292.93 L254.01,293.07 L254.57,293.21 L255.14,293.34 L255.70,293.47 L256.26,293.60 L256.82,293.72 L257.38,293.84 L257.94,293.95 L258.50,294.05 L259.06,294.15 L259.62,294.24 L260.18,294.32 L260.75,294.38 L261.31,294.44 L261.87,294.49 L262.43,294.52 L262.99,294.54 L263.55,294.55 L264.11,294.55 L264.67,294.54 L265.23,294.52 L265.79,294.50 L266.36,294.47 L266.92,294.43 L267.48,294.39 L268.04,294.35 L268.60,294.30 L269.16,294.25 L269.72,294.19 L270.28,294.13 L270.84,294.07 L271.40,294.00 L271.97,293.94 L272.53,293.87 L273.09,293.80 L273.65,293.72 L274.21,293.65 L274.77,293.58 L275.33,293.50 L275.89,293.43 L276.45,293.36 L277.01,293.29 L277.58,293.21 L278.14,293.15 L278.70,293.08 L279.26,293.01 L279.82,292.95 L280.38,292.89 L280.94,292.84 L281.50,292.79 L282.06,292.74 L282.62,292.69 L283.19,292.66 L283.75,292.62 L284.31,292.59 L284.87,292.57 L285.43,292.56 L285.99,292.55 L286.55,292.54 L287.11,292.55 L287.67,292.56 L288.23,292.57 L288.80,292.59 L289.36,292.61 L289.92,292.64 L290.48,292.67 L291.04,292.71 L291.60,292.75 L292.16,292.79 L292.72,292.83 L293.28,292.88 L293.84,292.93 L294.41,292.98 L294.97,293.03 L295.53,293.08 L296.09,293.13 L296.65,293.19 L297.21,293.24 L297.77,293.29 L298.33,293.34 L298.89,293.40 L299.45,293.45 L300.02,293.50 L300.58,293.54 L301.14,293.59 L301.70,293.63 L302.26,293.67 L302.82,293.71 L303.38,293.74 L303.94,293.77 L304.50,293.79 L305.06,293.81 L305.63,293.83 L306.19,293.84 L306.75,293.85 L307.31,293.85 L307.87,293.84 L308.43,293.84 L308.99,293.83 L309.55,293.82 L310.11,293.80 L310.67,293.78 L311.24,293.77 L311.80,293.74 L312.36,293.72 L312.92,293.70 L313.48,293.67 L314.04,293.64 L314.60,293.61 L315.16,293.58 L315.72,293.55 L316.28,293.52 L316.85,293.49 L317.41,293.46 L317.97,293.42 L318.53,293.39 L319.09,293.36 L319.65,293.32 L320.21,293.29 L320.77,293.26 L321.33,293.23 L321.89,293.19 L322.46,293.16 L323.02,293.14 L323.58,293.11 L324.14,293.08 L324.70,293.06 L325.26,293.04 L325.82,293.01 L326.38,293.00 L326.94,292.98 L327.50,292.97 L328.07,292.95 L328.63,292.95 L329.19,292.94 L329.75,292.94 L330.31,292.94 L330.87,292.94 L331.43,292.95 L331.99,292.96 L332.55,292.98 L333.11,293.00 L333.68,293.02 L334.24,293.04 L334.80,293.07 L335.36,293.10 L335.92,293.13 L336.48,293.16 L337.04,293.19 L337.60,293.22 L338.16,293.26 L338.72,293.29 L339.29,293.33 L339.85,293.36 L340.41,293.39 L340.97,293.43 L341.53,293.46 L342.09,293.49 L342.65,293.52 L343.21,293.54 L343.77,293.57 L344.33,293.59 L344.90,293.61 L345.46,293.63 L346.02,293.64 L346.58,293.65 L347.14,293.66 L347.70,293.66 L348.26,293.66 L348.82,293.66 L349.38,293.65 L349.94,293.65 L350.51,293.64 L351.07,293.63 L351.63,293.62 L352.19,293.61 L352.75,293.60 L353.31,293.58 L353.87,293.57 L354.43,293.55 L354.99,293.54 L355.55,293.52 L356.12,293.50 L356.68,293.49 L357.24,293.47 L357.80,293.45 L358.36,293.43 L358.92,293.41 L359.48,293.39 L360.04,293.37 L360.60,293.35 L361.16,293.34 L361.73,293.32 L362.29,293.30 L362.85,293.28 L363.41,293.26 L363.97,293.25 L364.53,293.23 L365.09,293.22 L365.65,293.20 L366.21,293.19 L366.77,293.18 L367.34,293.17 L367.90,293.16 L368.46,293.15 L369.02,293.14 L369.58,293.14 L370.14,293.13 L370.70,293.13 L371.26,293.13 L371.82,293.13 L372.38,293.14 L372.95,293.14 L373.51,293.15 L374.07,293.16 L374.63,293.17 L375.19,293.18 L375.75,293.20 L376.31,293.21 L376.87,293.23 L377.43,293.24 L377.99,293.26 L378.56,293.28 L379.12,293.30 L379.68,293.31 L380.24,293.33 L380.80,293.35 L381.36,293.37 L381.92,293.39 L382.48,293.41 L383.04,293.43 L383.60,293.45 L384.17,293.46 L384.73,293.48 L385.29,293.50 L385.85,293.51 L386.41,293.53 L386.97,293.54 L387.53,293.55 L388.09,293.56 L388.65,293.57 L389.21,293.57 L389.78,293.58 L390.34,293.58 L390.90,293.58 L391.46,293.58 L392.02,293.58 L392.58,293.57 L393.14,293.57 L393.70,293.56 L394.26,293.55 L394.82,293.55 L395.39,293.54 L395.95,293.53 L396.51,293.52 L397.07,293.50 L397.63,293.49 L398.19,293.48 L398.75,293.46 L399.31,293.45 L399.87,293.44 L400.43,293.42 L401.00,293.41 L401.56,293.39 L402.12,293.38 L402.68,293.36 L403.24,293.35 L403.80,293.34 L404.36,293.32 L404.92,293.31 L405.48,293.30 L406.04,293.28 L406.61,293.27 L407.17,293.26 L407.73,293.25 L408.29,293.24 L408.85,293.23 L409.41,293.23 L409.97,293.22 L410.53,293.21 L411.09,293.21 L411.65,293.21 L412.22,293.21 L412.78,293.21 L413.34,293.21 L413.90,293.21 L414.46,293.22 L415.02,293.22 L415.58,293.23 L416.14,293.23 L416.70,293.24 L417.26,293.24 L417.83,293.25 L418.39,293.26 L418.95,293.27 L419.51,293.28 L420.07,293.29 L420.63,293.29 L421.19,293.30 L421.75,293.31 L422.31,293.32 L422.87,293.33 L423.44,293.34 L424.00,293.35 L424.56,293.36 L425.12,293.37 L425.68,293.38 L426.24,293.38 L426.80,293.39 L427.36,293.40 L427.92,293.40 L428.48,293.41 L429.05,293.42 L429.61,293.42 L430.17,293.42 L430.73,293.43 L431.29,293.43 L431.85,293.43 L432.41,293.43 L432.97,293.43 L433.53,293.43 L434.09,293.43 L434.66,293.43 L435.22,293.43 L435.78,293.43 L436.34,293.43 L436.90,293.42 L437.46,293.42 L438.02,293.42 L438.58,293.42 L439.14,293.42 L439.70,293.42 L440.27,293.42 L440.83,293.42 L441.39,293.42 L441.95,293.41 L442.51,293.41 L443.07,293.41 L443.63,293.41 L444.19,293.40 L444.75,293.40 L445.31,293.40 L445.88,293.39 L446.44,293.39" stroke="#800000"/>
<path d="M104.60,322.40 L109.27,322.40 L113.95,322.40 L118.62,322.40 L123.30,322.40 L127.97,322.40 L132.65,322.40 L132.88,322.40 L133.12,322.40 L133.35,322.40 L133.58,322.37 L133.82,322.33 L134.05,322.27 L134.29,322.19 L134.52,322.10 L134.75,321.99 L134.99,321.87 L135.22,321.74 L135.45,321.60 L135.69,321.46 L135.92,321.30 L136.16,321.13 L136.39,320.91 L136.62,320.63 L136.86,320.29 L137.09,319.91 L137.32,319.47 L137.56,318.99 L137.79,318.47 L138.03,317.91 L138.26,317.32 L138.49,316.69 L138.73,316.02 L138.96,315.34 L139.19,314.62 L139.43,313.88 L139.66,313.01 L139.90,311.97 L140.13,310.79 L140.36,309.49 L140.60,308.09 L140.83,306.61 L141.06,305.09 L141.30,303.53 L141.53,301.97 L141.77,300.43 L142.00,298.93 L142.23,297.47 L142.47,295.97 L142.70,294.44 L142.93,292.89 L143.17,291.33 L143.40,289.78 L143.64,288.25 L143.87,286.73 L144.10,285.21 L144.34,283.69 L144.57,282.15 L144.80,280.61 L145.04,279.04 L145.27,277.40 L145.51,275.72 L145.74,274.03 L145.97,272.36 L146.21,270.74 L146.44,269.19 L146.67,267.75 L146.91,266.44 L147.14,265.27 L147.38,264.20 L147.61,263.20 L147.84,262.23 L148.08,261.25 L148.31,260.23 L148.54,259.12 L148.78,257.90 L149.01,256.52 L149.25,254.89 L149.48,252.91 L149.71,250.66 L149.95,248.23 L150.18,245.69 L150.41,243.14 L150.65,240.65 L150.88,238.32 L151.12,236.22 L151.35,234.31 L151.58,232.45 L151.82,230.73 L152.05,229.28 L152.28,228.13 L152.52,227.05 L152.75,226.10 L152.99,225.38 L153.22,224.97 L153.45,224.76 L153.69,224.59 L153.92,224.48 L154.15,224.44 L154.39,224.49 L154.62,224.61 L154.86,224.77 L155.09,224.97 L155.32,225.23 L155.56,225.61 L155.79,226.09 L156.02,226.65 L156.26,227.26 L156.49,227.90 L156.73,228.54 L156.96,229.20 L157.19,229.92 L157.43,230.71 L157.66,231.54 L157.89,232.42 L158.13,233.32 L158.36,234.24 L158.60,235.15 L158.83,236.06 L159.06,236.93 L159.30,237.80 L159.53,238.68 L159.76,239.56 L160.00,240.44 L160.23,241.33 L160.47,242.22 L160.70,243.12 L160.93,244.03 L161.17,244.95 L161.40,245.87 L161.63,246.81 L161.87,247.75 L162.10,248.69 L162.34,249.63 L162.57,250.56 L162.80,251.50 L163.04,252.47 L163.27,253.46 L163.50,254.44 L163.74,255.40 L163.97,256.34 L164.21,257.21 L164.44,258.03 L164.67,258.78 L164.91,259.51 L165.14,260.22 L165.37,260.90 L165.61,261.56 L165.84,262.19 L166.08,262.81 L166.31,263.41 L166.54,263.99 L166.78,264.56 L167.01,265.11 L167.24,265.64 L167.48,266.16 L167.71,266.66 L167.95,267.15 L168.18,267.63 L168.41,268.10 L168.65,268.56 L168.88,269.01 L169.11,269.45 L169.35,269.89 L169.58,270.33 L169.82,270.77 L170.05,271.21 L170.28,271.64 L170.52,272.09 L170.75,272.55 L170.98,273.05 L171.22,273.57 L171.45,274.09 L171.69,274.60 L171.92,275.08 L172.15,275.52 L172.39,275.91 L172.62,276.22 L172.85,276.44 L173.09,276.58 L173.32,276.70 L173.56,276.82 L173.79,276.93 L174.02,277.03 L174.26,277.13 L174.49,277.21 L174.72,277.29 L174.96,277.35 L175.19,277.40 L175.43,277.44 L175.66,277.47 L175.89,277.49 L176.13,277.49 L176.36,277.48 L176.59,277.45 L176.83,277.42 L177.06,277.37 L177.30,277.32 L177.53,277.25 L177.76,277.18 L178.00,277.10 L178.23,277.01 L178.46,276.91 L178.70,276.81 L178.93,276.71 L179.17,276.59 L179.40,276.43 L179.63,276.20 L179.87,275.92 L180.10,275.60 L180.33,275.26 L180.57,274.90 L180.80,274.55 L181.04,274.20 L181.27,273.89 L181.50,273.58 L181.74,273.28 L181.97,272.97 L182.20,272.66 L182.44,272.35 L182.67,272.04 L182.91,271.72 L183.14,271.41 L183.37,271.09 L183.61,270.78 L183.84,270.46 L184.07,270.15 L184.31,269.84 L184.54,269.52 L184.78,269.21 L185.01,268.91 L185.24,268.60 L185.48,268.30 L185.71,268.01 L185.94,267.71 L186.18,267.42 L186.41,267.14 L186.65,266.86 L186.88,266.58 L187.11,266.30 L187.35,266.02 L187.58,265.74 L187.81,265.45 L188.05,265.17 L188.28,264.89 L188.52,264.62 L188.75,264.34 L188.98,264.07 L189.22,263.80 L189.45,263.54 L189.68,263.27 L189.92,263.02 L190.15,262.77 L190.39,262.52 L190.62,262.29 L190.85,262.06 L191.09,261.83 L191.32,261.62 L191.55,261.41 L191.79,261.22 L192.02,261.03 L192.26,260.84 L192.49,260.66 L192.72,260.47 L192.96,260.29 L193.19,260.11 L193.42,259.93 L193.66,259.75 L193.89,259.59 L194.13,259.42 L194.36,259.27 L194.59,259.12 L194.83,258.98 L195.06,258.85 L195.29,258.73 L195.53,258.62 L195.76,258.53 L196.00,258.44 L196.23,258.37 L196.46,258.31 L196.70,258.25 L196.93,258.19 L197.16,258.13 L197.40,258.08 L197.63,258.03 L197.87,257.98 L198.10,257.93 L198.33,257.89 L198.57,257.85 L198.80,257.82 L199.03,257.79 L199.27,257.77 L199.50,257.75 L199.74,257.74 L199.97,257.73 L200.20,257.74 L200.44,257.75 L200.67,257.77 L200.90,257.79 L201.14,257.83 L201.37,257.87 L201.61,257.91 L201.84,257.96 L202.07,258.02 L202.31,258.09 L202.54,258.16 L202.77,258.24 L203.01,258.32 L203.24,258.41 L203.48,258.50 L203.71,258.60 L203.94,258.70 L204.18,258.81 L204.41,258.92 L204.64,259.04 L204.88,259.16 L205.11,259.28 L205.35,259.41 L205.58,259.55 L205.81,259.68 L206.05,259.82 L206.28,259.97 L206.51,260.12 L206.75,260.27 L206.98,260.42 L207.22,260.57 L207.45,260.73 L208.01,261.12 L208.57,261.52 L209.13,261.93 L209.69,262.34 L210.25,262.76 L210.82,263.18 L211.38,263.60 L211.94,264.02 L212.50,264.43 L213.06,264.83 L213.62,265.23 L214.18,265.61 L214.74,265.98 L215.30,266.34 L215.87,266.67 L216.43,266.98 L216.99,267.27 L217.55,267.54 L218.11,267.78 L218.67,267.98 L219.23,268.16 L219.79,268.30 L220.35,268.40 L220.91,268.46 L221.48,268.48 L222.04,268.47 L222.60,268.43 L223.16,268.36 L223.72,268.27 L224.28,268.16 L224.84,268.03 L225.40,267.87 L225.96,267.70 L226.52,267.52 L227.09,267.32 L227.65,267.10 L228.21,266.88 L228.77,266.64 L229.33,266.40 L229.89,266.15 L230.45,265.89 L231.01,265.64 L231.57,265.37 L232.13,265.11 L232.70,264.85 L233.26,264.60 L233.82,264.34 L234.38,264.09 L234.94,263.85 L235.50,263.62 L236.06,263.40 L236.62,263.19 L237.18,262.99 L237.74,262.81 L238.31,262.65 L238.87,262.50 L239.43,262.38 L239.99,262.27 L240.55,262.19 L241.11,262.13 L241.67,262.10 L242.23,262.09 L242.79,262.10 L243.35,262.13 L243.92,262.16 L244.48,262.21 L245.04,262.26 L245.60,262.33 L246.16,262.40 L246.72,262.49 L247.28,262.58 L247.84,262.67 L248.40,262.78 L248.96,262.89 L249.53,263.00 L250.09,263.12 L250.65,263.24 L251.21,263.36 L251.77,263.49 L252.33,263.61 L252.89,263.74 L253.45,263.87 L254.01,263.99 L254.57,264.12 L255.14,264.24 L255.70,264.36 L256.26,264.48 L256.82,264.59 L257.38,264.70 L257.94,264.80 L258.50,264.89 L259.06,264.98 L259.62,265.06 L260.18,265.13 L260.75,265.19 L261.31,265.25 L261.87,265.29 L262.43,265.32 L262.99,265.34 L263.55,265.35 L264.11,265.34 L264.67,265.33 L265.23,265.32 L265.79,265.30 L266.36,265.27 L266.92,265.24 L267.48,265.21 L268.04,265.17 L268.60,265.13 L269.16,265.08 L269.72,265.03 L270.28,264.98 L270.84,264.93 L271.40,264.87 L271.97,264.81 L272.53,264.75 L273.09,264.69 L273.65,264.63 L274.21,264.56 L274.77,264.50 L275.33,264.44 L275.89,264.37 L276.45,264.31 L277.01,264.25 L277.58,264.19 L278.14,264.13 L278.70,264.07 L279.26,264.01 L279.82,263.96 L280.38,263.91 L280.94,263.86 L281.50,263.81 L282.06,263.77 L282.62,263.73 L283.19,263.70 L283.75,263.67 L284.31,263.65 L284.87,263.63 L285.43,263.61 L285.99,263.60 L286.55,263.60 L287.11,263.61 L287.67,263.61 L288.23,263.63 L288.80,263.64 L289.36,263.66 L289.92,263.69 L290.48,263.71 L291.04,263.74 L291.60,263.78 L292.16,263.81 L292.72,263.85 L293.28,263.89 L293.84,263.93 L294.41,263.97 L294.97,264.01 L295.53,264.06 L296.09,264.10 L296.65,264.15 L297.21,264.19 L297.77,264.24 L298.33,264.28 L298.89,264.33 L299.45,264.37 L300.02,264.41 L300.58,264.45 L301.14,264.49 L301.70,264.52 L302.26,264.56 L302.82,264.59 L303.38,264.61 L303.94,264.64 L304.50,264.66 L305.06,264.68 L305.63,264.69 L306.19,264.70 L306.75,264.71 L307.31,264.71 L307.87,264.70 L308.43,264.70 L308.99,264.69 L309.55,264.68 L310.11,264.67 L310.67,264.66 L311.24,264.64 L311.80,264.62 L312.36,264.60 L312.92,264.58 L313.48,264.56 L314.04,264.54 L314.60,264.51 L315.16,264.49 L315.72,264.46 L316.28,264.44 L316.85,264.41 L317.41,264.38 L317.97,264.35 L318.53,264.33 L319.09,264.30 L319.65,264.27 L320.21,264.24 L320.77,264.22 L321.33,264.19 L321.89,264.17 L322.46,264.14 L323.02,264.12 L323.58,264.09 L324.14,264.07 L324.70,264.05 L325.26,264.03 L325.82,264.02 L326.38,264.00 L326.94,263.99 L327.50,263.98 L328.07,263.97 L328.63,263.96 L329.19,263.95 L329.75,263.95 L330.31,263.95 L330.87,263.96 L331.43,263.96 L331.99,263.97 L332.55,263.99 L333.11,264.00 L333.68,264.02 L334.24,264.04 L334.80,264.06 L335.36,264.08 L335.92,264.10 L336.48,264.13 L337.04,264.16 L337.60,264.18 L338.16,264.21 L338.72,264.24 L339.29,264.26 L339.85,264.29 L340.41,264.32 L340.97,264.35 L341.53,264.37 L342.09,264.40 L342.65,264.42 L343.21,264.44 L343.77,264.46 L344.33,264.48 L344.90,264.49 L345.46,264.51 L346.02,264.52 L346.58,264.53 L347.14,264.53 L347.70,264.53 L348.26,264.53 L348.82,264.53 L349.38,264.53 L349.94,264.52 L350.51,264.52 L351.07,264.51 L351.63,264.50 L352.19,264.49 L352.75,264.48 L353.31,264.47 L353.87,264.46 L354.43,264.45 L354.99,264.44 L355.55,264.43 L356.12,264.41 L356.68,264.40 L357.24,264.38 L357.80,264.37 L358.36,264.36 L358.92,264.34 L359.48,264.33 L360.04,264.31 L360.60,264.30 L361.16,264.28 L361.73,264.27 L362.29,264.25 L362.85,264.24 L363.41,264.23 L363.97,264.22 L364.53,264.20 L365.09,264.19 L365.65,264.18 L366.21,264.17 L366.77,264.16 L367.34,264.15 L367.90,264.15 L368.46,264.14 L369.02,264.13 L369.58,264.13 L370.14,264.13 L370.70,264.13 L371.26,264.13 L371.82,264.13 L372.38,264.13 L372.95,264.13 L373.51,264.14 L374.07,264.15 L374.63,264.16 L375.19,264.17 L375.75,264.18 L376.31,264.19 L376.87,264.20 L377.43,264.21 L377.99,264.23 L378.56,264.24 L379.12,264.25 L379.68,264.27 L380.24,264.28 L380.80,264.30 L381.36,264.31 L381.92,264.33 L382.48,264.34 L383.04,264.36 L383.60,264.37 L384.17,264.38 L384.73,264.40 L385.29,264.41 L385.85,264.42 L386.41,264.43 L386.97,264.44 L387.53,264.45 L388.09,264.46 L388.65,264.46 L389.21,264.47 L389.78,264.47 L390.34,264.47 L390.90,264.47 L391.46,264.47 L392.02,264.47 L392.58,264.47 L393.14,264.46 L393.70,264.46 L394.26,264.45 L394.82,264.45 L395.39,264.44 L395.95,264.43 L396.51,264.42 L397.07,264.41 L397.63,264.40 L398.19,264.39 L398.75,264.38 L399.31,264.37 L399.87,264.36 L400.43,264.35 L401.00,264.34 L401.56,264.33 L402.12,264.32 L402.68,264.30 L403.24,264.29 L403.80,264.28 L404.36,264.27 L404.92,264.26 L405.48,264.25 L406.04,264.24 L406.61,264.23 L407.17,264.22 L407.73,264.22 L408.29,264.21 L408.85,264.20 L409.41,264.20 L409.97,264.19 L410.53,264.19 L411.09,264.19 L411.65,264.18 L412.22,264.18 L412.78,264.18 L413.34,264.19 L413.90,264.19 L414.46,264.19 L415.02,264.19 L415.58,264.20 L416.14,264.20 L416.70,264.21 L417.26,264.21 L417.83,264.22 L418.39,264.22 L418.95,264.23 L419.51,264.24 L420.07,264.25 L420.63,264.25 L421.19,264.26 L421.75,264.27 L422.31,264.27 L422.87,264.28 L423.44,264.29 L424.00,264.30 L424.56,264.30 L425.12,264.31 L425.68,264.32 L426.24,264.32 L426.80,264.33 L427.36,264.33 L427.92,264.34 L428.48,264.34 L429.05,264.35 L429.61,264.35 L430.17,264.35 L430.73,264.36 L431.29,264.36 L431.85,264.36 L432.41,264.36 L432.97,264.36 L433.53,264.36 L434.09,264.36 L434.66,264.36 L435.22,264.36 L435.78,264.36 L436.34,264.36 L436.90,264.36 L437.46,264.36 L438.02,264.36 L438.58,264.35 L439.14,264.35 L439.70,264.35 L440.27,264.35 L440.83,264.35 L441.39,264.35 L441.95,264.35 L442.51,264.35 L443.07,264.34 L443.63,264.34 L444.19,264.34 L444.75,264.34 L445.31,264.34 L445.88,264.33 L446.44,264.33" stroke="#008000"/>
</g>
<g stroke="#000" stroke-width="1.4" fill="none">
<line x1="104.40" y1="205.50" x2="104.40" y2="497.40"/>
<line x1="103.70" y1="496.70" x2="440" y2="496.70"/>
<line x1="98.10" y1="496.70" x2="104.40" y2="496.70"/>
<line x1="101.00" y1="482.18" x2="104.40" y2="482.18"/>
<line x1="98.10" y1="467.65" x2="104.40" y2="467.65"/>
<line x1="101.00" y1="453.12" x2="104.40" y2="453.12"/>
<line x1="98.10" y1="438.60" x2="104.40" y2="438.60"/>
<line x1="101.00" y1="424.07" x2="104.40" y2="424.07"/>
<line x1="98.10" y1="409.55" x2="104.40" y2="409.55"/>
<line x1="101.00" y1="395.02" x2="104.40" y2="395.02"/>
<line x1="98.10" y1="380.50" x2="104.40" y2="380.50"/>
<line x1="101.00" y1="365.98" x2="104.40" y2="365.98"/>
<line x1="98.10" y1="351.45" x2="104.40" y2="351.45"/>
<line x1="101.00" y1="336.92" x2="104.40" y2="336.92"/>
<line x1="98.10" y1="322.40" x2="104.40" y2="322.40"/>
<line x1="101.00" y1="307.88" x2="104.40" y2="307.88"/>
<line x1="98.10" y1="293.35" x2="104.40" y2="293.35"/>
<line x1="101.00" y1="278.82" x2="104.40" y2="278.82"/>
<line x1="98.10" y1="264.30" x2="104.40" y2="264.30"/>
<line x1="101.00" y1="249.77" x2="104.40" y2="249.77"/>
<line x1="98.10" y1="235.25" x2="104.40" y2="235.25"/>
<line x1="101.00" y1="220.72" x2="104.40" y2="220.72"/>
<line x1="98.10" y1="206.20" x2="104.40" y2="206.20"/>
<line x1="104.60" y1="496.70" x2="104.60" y2="502.90"/>
<line x1="127.97" y1="496.70" x2="127.97" y2="499.90"/>
<line x1="151.35" y1="496.70" x2="151.35" y2="502.90"/>
<line x1="174.72" y1="496.70" x2="174.72" y2="499.90"/>
<line x1="198.10" y1="496.70" x2="198.10" y2="502.90"/>
<line x1="221.47" y1="496.70" x2="221.47" y2="499.90"/>
<line x1="244.85" y1="496.70" x2="244.85" y2="502.90"/>
<line x1="268.23" y1="496.70" x2="268.23" y2="499.90"/>
<line x1="291.60" y1="496.70" x2="291.60" y2="502.90"/>
<line x1="314.98" y1="496.70" x2="314.98" y2="499.90"/>
<line x1="338.35" y1="496.70" x2="338.35" y2="502.90"/>
<line x1="361.73" y1="496.70" x2="361.73" y2="499.90"/>
<line x1="385.10" y1="496.70" x2="385.10" y2="502.90"/>
<line x1="408.48" y1="496.70" x2="408.48" y2="499.90"/>
<line x1="431.85" y1="496.70" x2="431.85" y2="502.90"/>
</g>
<g font-size="15.4px" stroke="#000" stroke-width="0.25" stroke-linejoin="round">
<text transform="translate(94.6,501.80) scale(0.965,1)" text-anchor="end">0.0</text>
<text transform="translate(94.6,472.75) scale(0.965,1)" text-anchor="end">0.5</text>
<text transform="translate(94.6,443.70) scale(0.965,1)" text-anchor="end">1.0</text>
<text transform="translate(94.6,414.65) scale(0.965,1)" text-anchor="end">1.5</text>
<text transform="translate(94.6,385.60) scale(0.965,1)" text-anchor="end">2.0</text>
<text transform="translate(94.6,356.55) scale(0.965,1)" text-anchor="end">2.5</text>
<text transform="translate(94.6,327.50) scale(0.965,1)" text-anchor="end">3.0</text>
<text transform="translate(94.6,298.45) scale(0.965,1)" text-anchor="end">3.5</text>
<text transform="translate(94.6,269.40) scale(0.965,1)" text-anchor="end">4.0</text>
<text transform="translate(94.6,240.35) scale(0.965,1)" text-anchor="end">4.5</text>
<text transform="translate(94.6,211.30) scale(0.965,1)" text-anchor="end">5.0</text>
<text transform="translate(104.60,518.9) scale(0.965,1)" text-anchor="middle">0</text>
<text transform="translate(151.35,518.9) scale(0.965,1)" text-anchor="middle">5</text>
<text transform="translate(198.10,518.9) scale(0.965,1)" text-anchor="middle">10</text>
<text transform="translate(244.85,518.9) scale(0.965,1)" text-anchor="middle">15</text>
<text transform="translate(291.60,518.9) scale(0.965,1)" text-anchor="middle">20</text>
<text transform="translate(338.35,518.9) scale(0.965,1)" text-anchor="middle">25</text>
<text transform="translate(385.10,518.9) scale(0.965,1)" text-anchor="middle">30</text>
<text transform="translate(431.85,518.9) scale(0.965,1)" text-anchor="middle">35</text>
</g>
<text font-size="25px" transform="translate(303.8,556) scale(1.06,1)" text-anchor="middle" stroke="#000" stroke-width="0.3">r (A)</text>
<circle cx="312.1" cy="534.8" r="2.45" fill="none" stroke="#000" stroke-width="1.8"/>
<text font-size="27.7px" transform="translate(46.6,363.2) rotate(-90) scale(1,0.98)" text-anchor="middle">g(r)</text>
</svg>
</body></html>
